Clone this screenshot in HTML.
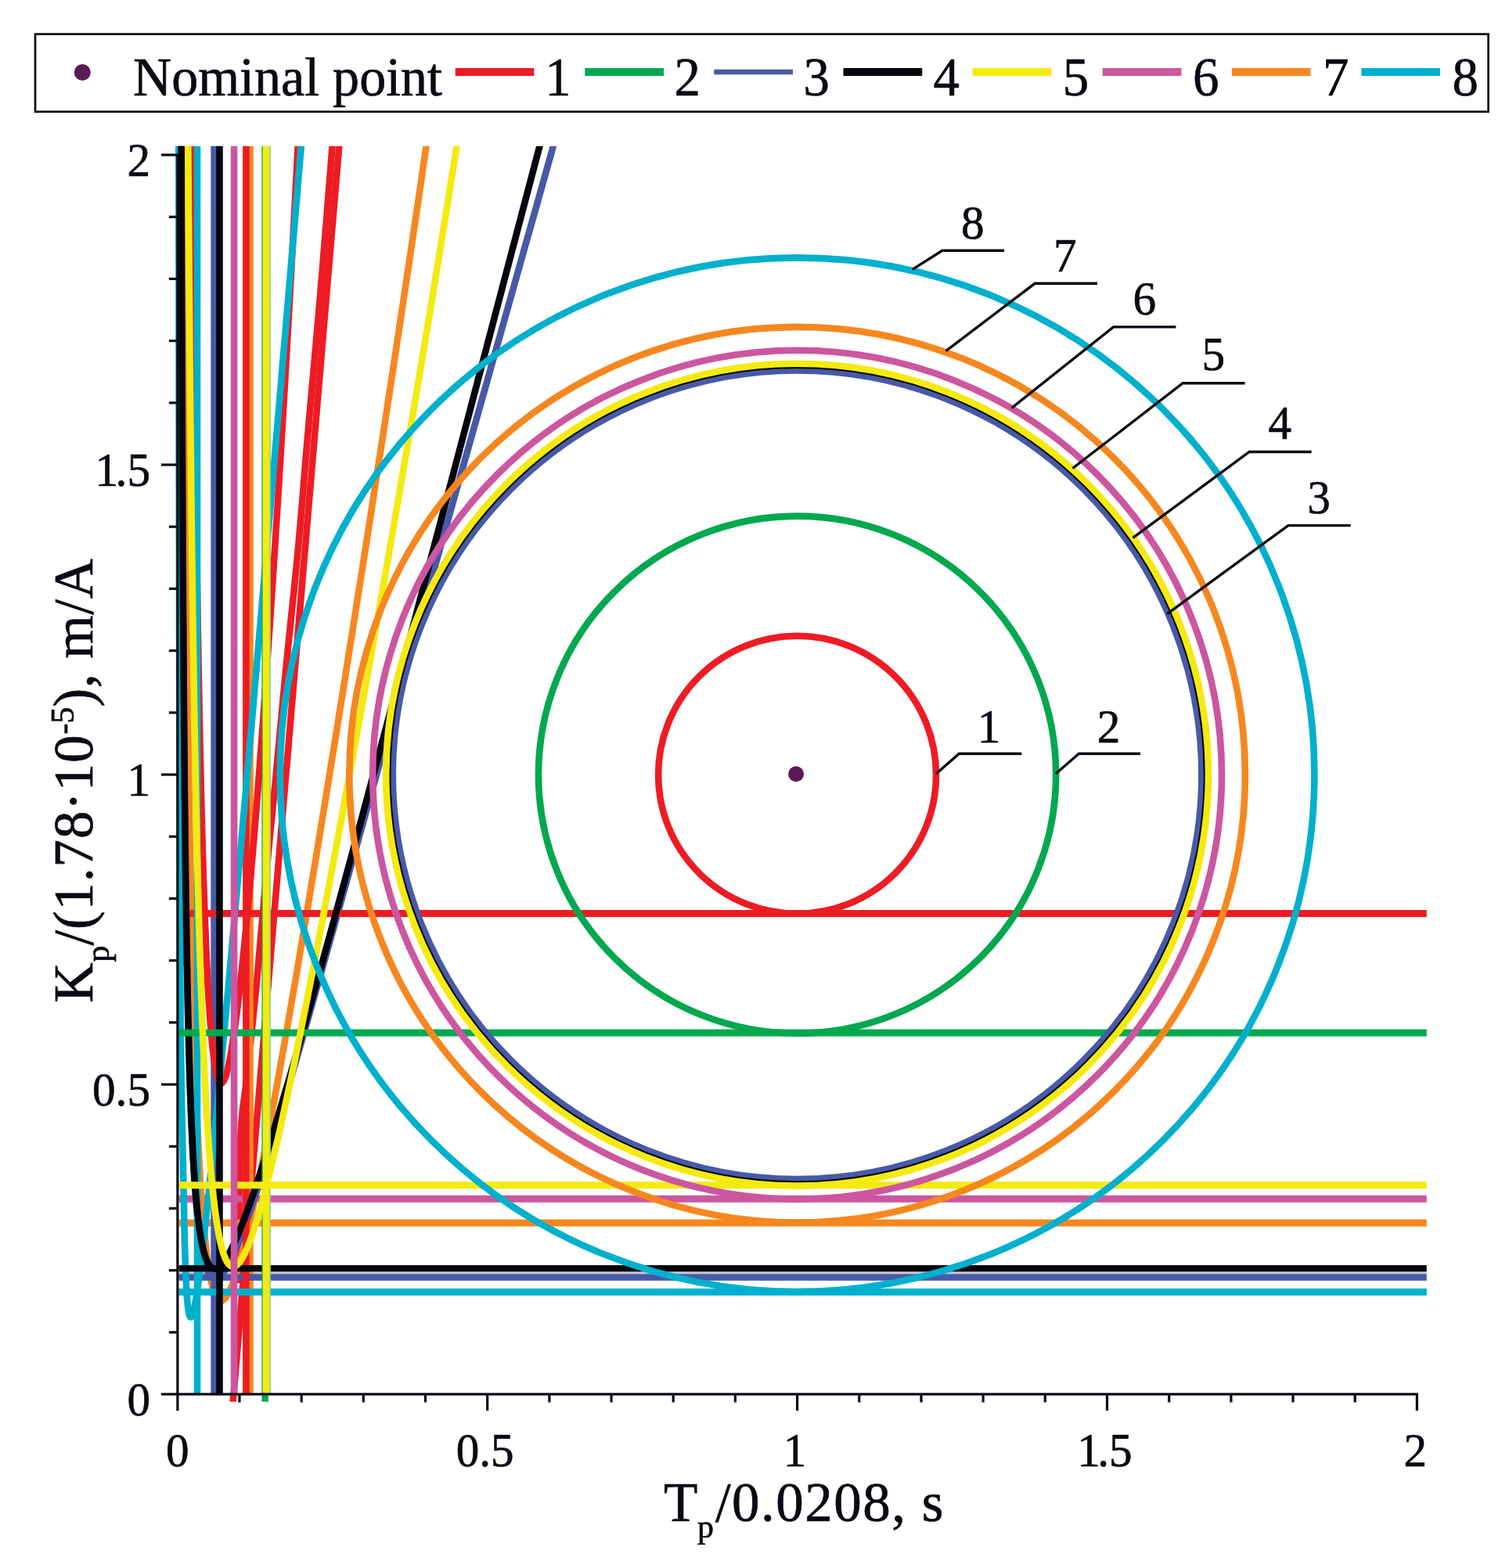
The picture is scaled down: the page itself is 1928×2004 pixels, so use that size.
<!DOCTYPE html>
<html lang="en"><head><meta charset="utf-8"><title>Stability regions</title>
<style>html,body{margin:0;padding:0;background:#fff}body{width:1928px;height:2004px;overflow:hidden}svg{display:block}text{font-family:"Liberation Serif","DejaVu Serif",serif;fill:#0a0a12;stroke:#0a0a12;stroke-width:0.7px;stroke-linejoin:round}</style>
</head><body>
<svg width="1928" height="2004" viewBox="0 0 1928 2004">
<rect x="0" y="0" width="1928" height="2004" fill="#fff"/>
<defs><clipPath id="cp"><rect x="222.0" y="186.8" width="1600.8" height="1595.8"/></clipPath>
<clipPath id="cp2"><rect x="222.0" y="186.8" width="1600.8" height="1604.7"/></clipPath></defs>
<rect x="45.0" y="43.6" width="1856.6" height="99.2" fill="#fff" stroke="#0a0a12" stroke-width="2.7"/>
<circle cx="105.3" cy="92.5" r="10.5" fill="#5b1a57"/>
<text x="170.0" y="121.6" font-size="70.0" textLength="395.0" lengthAdjust="spacingAndGlyphs">Nominal point</text>
<line x1="581.7" y1="92.0" x2="682.4" y2="92.0" stroke="#ed1c24" stroke-width="9.8"/>
<text transform="translate(713.0,121.6) scale(0.955,1)" font-size="70.0" text-anchor="middle">1</text>
<line x1="747.3" y1="92.0" x2="848.0" y2="92.0" stroke="#00a84f" stroke-width="9.8"/>
<text transform="translate(878.1,121.6) scale(0.955,1)" font-size="70.0" text-anchor="middle">2</text>
<line x1="912.4" y1="92.0" x2="1013.1" y2="92.0" stroke="#4859a7" stroke-width="6.6"/>
<text transform="translate(1043.2,121.6) scale(0.955,1)" font-size="70.0" text-anchor="middle">3</text>
<line x1="1077.5" y1="92.0" x2="1178.2" y2="92.0" stroke="#04050d" stroke-width="9.8"/>
<text transform="translate(1209.3,121.6) scale(0.955,1)" font-size="70.0" text-anchor="middle">4</text>
<line x1="1242.6" y1="92.0" x2="1343.3" y2="92.0" stroke="#f3ea12" stroke-width="9.8"/>
<text transform="translate(1374.4,121.6) scale(0.955,1)" font-size="70.0" text-anchor="middle">5</text>
<line x1="1408.7" y1="92.0" x2="1509.4" y2="92.0" stroke="#cc569f" stroke-width="9.8"/>
<text transform="translate(1540.6,121.6) scale(0.955,1)" font-size="70.0" text-anchor="middle">6</text>
<line x1="1573.8" y1="92.0" x2="1674.5" y2="92.0" stroke="#f6871f" stroke-width="9.8"/>
<text transform="translate(1706.7,121.6) scale(0.955,1)" font-size="70.0" text-anchor="middle">7</text>
<line x1="1739.4" y1="92.0" x2="1840.1" y2="92.0" stroke="#00b0cc" stroke-width="9.8"/>
<text transform="translate(1872.3,121.6) scale(0.955,1)" font-size="70.0" text-anchor="middle">8</text>
<g fill="none" stroke-width="8.6" stroke-linejoin="round">
<path clip-path="url(#cp)" d="M228.5,1626.9 H1830" stroke="#c6c6cf" stroke-width="3.4"/>
<path clip-path="url(#cp)" d="M305.5,1640.0 L305.5,1633.7 L305.5,1627.4 L305.5,1621.1 L305.5,1614.9 L305.5,1608.7 L305.5,1602.6 L305.5,1596.5 L305.6,1590.5 L305.6,1584.6 L305.6,1578.8 L305.6,1573.1 L305.6,1567.5 L305.6,1562.0 L305.6,1556.7 L305.6,1551.6 L305.6,1546.6 L305.6,1541.8 L305.6,1537.1 L305.6,1532.7 L305.6,1528.4 L305.6,1524.2 L305.6,1520.1 L305.6,1516.1 L305.7,1512.2 L305.7,1508.3 L305.7,1504.4 L305.8,1500.5 L305.9,1496.6 L305.9,1492.7 L306.0,1488.6 L306.1,1484.5 L306.3,1480.3 L306.4,1476.1 L306.5,1471.8 L306.7,1467.5 L306.9,1463.3 L307.1,1459.1 L307.3,1454.9 L307.5,1450.8 L307.7,1446.9 L307.9,1443.0 L308.2,1439.3 L308.4,1435.7 L308.7,1432.3 L309.0,1429.0 L309.3,1425.9 L309.5,1423.0 L309.8,1420.1 L310.1,1417.4 L310.4,1414.8 L310.8,1412.3 L311.1,1409.9 L311.4,1407.6 L311.7,1405.2 L312.1,1402.7 L312.5,1400.0 L312.9,1397.1 L313.3,1393.9 L313.8,1390.2 L314.3,1386.1 L314.8,1381.5 L315.4,1376.3 L316.1,1370.7 L316.7,1364.8 L317.4,1358.5 L318.1,1352.0 L318.8,1345.3 L319.5,1338.4 L320.3,1331.4 L321.0,1324.4 L321.7,1317.4 L322.4,1310.4 L323.1,1303.7 L323.8,1297.1 L324.4,1290.7 L325.0,1284.7 L325.6,1279.0 L326.1,1273.8 L326.6,1269.0 L327.0,1264.8 L327.4,1260.9 L327.8,1257.4 L328.1,1254.0 L328.4,1250.8 L328.7,1247.7 L329.0,1244.4 L329.3,1241.1 L329.6,1237.5 L330.0,1233.5 L330.4,1229.1 L330.8,1224.2 L331.3,1218.8 L331.8,1213.1 L332.3,1206.9 L332.9,1200.4 L333.5,1193.6 L334.1,1186.5 L334.8,1179.2 L335.4,1171.8 L336.1,1164.2 L336.8,1156.4 L337.5,1148.7 L338.2,1140.9 L338.9,1133.1 L339.6,1125.3 L340.3,1117.7 L341.0,1110.2 L341.6,1102.9 L342.3,1095.8 L342.9,1089.0 L343.6,1082.4 L344.2,1076.2 L344.7,1070.3 L345.3,1064.6 L345.8,1059.2 L346.3,1053.9 L346.9,1048.8 L347.4,1043.9 L347.9,1039.0 L348.3,1034.1 L348.8,1029.3 L349.3,1024.5 L349.8,1019.6 L350.3,1014.6 L350.8,1009.5 L351.3,1004.2 L351.9,998.8 L352.4,993.1 L353.0,987.2 L353.5,981.1 L354.1,974.9 L354.7,968.4 L355.3,961.9 L355.9,955.1 L356.6,948.2 L357.2,941.3 L357.9,934.2 L358.5,927.0 L359.2,919.7 L359.9,912.3 L360.6,904.9 L361.3,897.4 L362.0,889.9 L362.7,882.3 L363.4,874.8 L364.1,867.2 L364.8,859.7 L365.6,852.2 L366.3,844.7 L367.1,837.2 L367.8,829.8 L368.6,822.4 L369.3,815.0 L370.1,807.7 L370.8,800.5 L371.6,793.2 L372.3,786.0 L373.1,778.8 L373.8,771.7 L374.6,764.6 L375.3,757.6 L376.0,750.6 L376.7,743.7 L377.4,736.7 L378.1,729.9 L378.8,723.1 L379.4,716.3 L380.1,709.6 L380.7,702.9 L381.3,696.3 L382.0,689.7 L382.5,683.1 L383.1,676.6 L383.7,670.2 L384.2,663.7 L384.8,657.3 L385.3,650.8 L385.9,644.4 L386.4,637.9 L386.9,631.5 L387.5,625.0 L388.0,618.5 L388.5,612.0 L389.0,605.5 L389.6,598.9 L390.1,592.2 L390.7,585.5 L391.3,578.8 L391.8,571.9 L392.4,565.0 L393.0,558.1 L393.6,551.0 L394.3,543.9 L394.9,536.7 L395.6,529.4 L396.2,522.0 L396.9,514.6 L397.6,507.0 L398.3,499.4 L398.9,491.7 L399.7,483.9 L400.4,476.0 L401.1,468.1 L401.8,460.0 L402.5,451.9 L403.3,443.6 L404.0,435.3 L404.8,426.9 L405.5,418.4 L406.3,409.8 L407.1,401.1 L407.8,392.3 L408.6,383.4 L409.4,374.4 L410.1,365.3 L410.9,356.1 L411.7,347.0 L412.4,337.8 L413.2,328.6 L413.9,319.4 L414.7,310.3 L415.4,301.3 L416.1,292.4 L416.9,283.5 L417.6,274.8 L418.2,266.3 L418.9,257.9 L419.6,249.8 L420.2,241.8 L420.8,234.2 L421.4,226.7 L422.0,219.6 L422.5,212.8 L423.0,206.3 L423.5,200.1 L424.0,194.3 L424.4,189.0 L424.8,184.0 L425.2,179.4 L425.5,175.2 L425.8,171.4 L426.1,167.8 L426.4,164.5 L426.7,161.3 L426.9,158.3 L427.1,155.5 L427.4,152.7 L427.6,150.0" stroke="#ed1c24" stroke-width="8.6"/>
<path clip-path="url(#cp2)" d="M285.3,1938.0 L285.8,1932.4 L286.2,1926.9 L286.7,1921.3 L287.2,1915.8 L287.6,1910.3 L288.1,1904.8 L288.6,1899.3 L289.0,1893.8 L289.5,1888.4 L289.9,1883.0 L290.4,1877.7 L290.8,1872.4 L291.3,1867.1 L291.7,1861.9 L292.2,1856.7 L292.6,1851.7 L293.0,1846.6 L293.4,1841.7 L293.8,1836.8 L294.2,1832.0 L294.6,1827.2 L295.0,1822.6 L295.4,1818.0 L295.8,1813.5 L296.2,1809.2 L296.5,1804.9 L296.9,1800.7 L297.2,1796.6 L297.6,1792.7 L297.9,1788.8 L298.2,1785.1 L298.5,1781.5 L298.8,1778.0 L299.1,1774.5 L299.4,1771.2 L299.7,1767.8 L299.9,1764.5 L300.2,1761.3 L300.5,1758.0 L300.8,1754.8 L301.0,1751.5 L301.3,1748.1 L301.6,1744.8 L301.9,1741.3 L302.2,1737.8 L302.5,1734.2 L302.8,1730.4 L303.1,1726.6 L303.5,1722.6 L303.8,1718.4 L304.2,1714.1 L304.6,1709.6 L305.0,1704.9 L305.4,1700.0 L305.8,1694.8 L306.3,1689.6 L306.7,1684.1 L307.2,1678.5 L307.7,1672.7 L308.2,1666.8 L308.7,1660.7 L309.2,1654.5 L309.8,1648.2 L310.3,1641.8 L310.8,1635.4 L311.4,1628.8 L312.0,1622.2 L312.5,1615.5 L313.1,1608.7 L313.7,1601.9 L314.2,1595.1 L314.8,1588.3 L315.4,1581.4 L316.0,1574.6 L316.5,1567.7 L317.1,1560.9 L317.7,1554.1 L318.3,1547.4 L318.8,1540.7 L319.4,1534.1 L319.9,1527.5 L320.5,1521.0 L321.0,1514.7 L321.6,1508.4 L322.1,1502.2 L322.6,1496.2 L323.1,1490.3 L323.6,1484.5 L324.0,1478.9 L324.5,1473.4 L325.0,1468.2 L325.4,1463.1 L325.8,1458.1 L326.2,1453.3 L326.6,1448.7 L327.0,1444.2 L327.4,1439.9 L327.7,1435.6 L328.1,1431.5 L328.4,1427.4 L328.8,1423.5 L329.1,1419.6 L329.4,1415.8 L329.7,1412.0 L330.0,1408.3 L330.4,1404.6 L330.7,1401.0 L331.0,1397.3 L331.3,1393.7 L331.6,1390.1 L331.9,1386.4 L332.2,1382.8 L332.5,1379.0 L332.9,1375.3 L333.2,1371.5 L333.5,1367.6 L333.8,1363.7 L334.2,1359.7 L334.5,1355.6 L334.9,1351.5 L335.2,1347.3 L335.6,1343.0 L335.9,1338.7 L336.3,1334.3 L336.7,1329.8 L337.1,1325.3 L337.5,1320.7 L337.8,1316.1 L338.2,1311.4 L338.6,1306.6 L339.1,1301.8 L339.5,1296.9 L339.9,1292.0 L340.3,1286.9 L340.7,1281.9 L341.2,1276.8 L341.6,1271.6 L342.0,1266.3 L342.5,1261.0 L342.9,1255.7 L343.4,1250.3 L343.9,1244.8 L344.3,1239.3 L344.8,1233.7 L345.3,1228.1 L345.7,1222.4 L346.2,1216.7 L346.7,1210.9 L347.2,1205.1 L347.7,1199.2 L348.2,1193.3 L348.7,1187.3 L349.2,1181.3 L349.7,1175.2 L350.2,1169.1 L350.8,1162.9 L351.3,1156.7 L351.8,1150.4 L352.4,1144.1 L352.9,1137.8 L353.4,1131.4 L354.0,1125.0 L354.5,1118.5 L355.1,1112.0 L355.6,1105.4 L356.2,1098.8 L356.8,1092.2 L357.3,1085.5 L357.9,1078.8 L358.5,1072.1 L359.0,1065.3 L359.6,1058.5 L360.2,1051.6 L360.8,1044.7 L361.4,1037.8 L361.9,1030.8 L362.5,1023.9 L363.1,1016.8 L363.7,1009.8 L364.3,1002.7 L364.9,995.6 L365.5,988.4 L366.1,981.3 L366.8,974.1 L367.4,966.8 L368.0,959.6 L368.6,952.3 L369.2,945.0 L369.8,937.7 L370.5,930.3 L371.1,922.9 L371.7,915.5 L372.3,908.0 L373.0,900.5 L373.6,893.0 L374.3,885.4 L374.9,877.9 L375.5,870.2 L376.2,862.6 L376.8,854.9 L377.5,847.2 L378.1,839.4 L378.8,831.6 L379.5,823.8 L380.1,816.0 L380.8,808.1 L381.5,800.1 L382.1,792.2 L382.8,784.2 L383.5,776.1 L384.2,768.0 L384.9,759.9 L385.5,751.8 L386.2,743.5 L386.9,735.3 L387.6,727.0 L388.3,718.7 L389.0,710.3 L389.8,701.9 L390.5,693.5 L391.2,685.0 L391.9,676.4 L392.6,667.9 L393.4,659.2 L394.1,650.6 L394.8,641.9 L395.6,633.1 L396.3,624.3 L397.1,615.4 L397.8,606.5 L398.6,597.6 L399.3,588.6 L400.1,579.5 L400.9,570.5 L401.6,561.3 L402.4,552.1 L403.2,542.9 L404.0,533.6 L404.8,524.4 L405.5,515.1 L406.3,505.8 L407.1,496.4 L407.9,487.1 L408.7,477.8 L409.5,468.5 L410.3,459.2 L411.0,450.0 L411.8,440.7 L412.6,431.5 L413.4,422.4 L414.1,413.3 L414.9,404.2 L415.7,395.2 L416.4,386.3 L417.2,377.5 L417.9,368.7 L418.6,360.0 L419.4,351.4 L420.1,342.9 L420.8,334.6 L421.5,326.3 L422.2,318.1 L422.9,310.1 L423.5,302.2 L424.2,294.4 L424.8,286.8 L425.5,279.3 L426.1,271.9 L426.7,264.7 L427.3,257.7 L427.9,250.9 L428.4,244.2 L429.0,237.7 L429.5,231.5 L430.0,225.4 L430.5,219.5 L431.0,213.8 L431.5,208.3 L431.9,203.1 L432.3,198.0 L432.7,193.3 L433.1,188.7 L433.5,184.4 L433.8,180.3 L434.1,176.5 L434.4,172.9 L434.7,169.4 L435.0,166.2 L435.3,163.1 L435.5,160.2 L435.7,157.4 L436.0,154.8 L436.2,152.3 L436.4,149.8 L436.6,147.5 L436.8,145.2 L437.0,143.0 L437.1,140.8 L437.3,138.6 L437.5,136.5" stroke="#ed1c24" stroke-width="8.6"/>
<path clip-path="url(#cp)" d="M228.5,1563.0 H1827.8" stroke="#f6871f" stroke-width="9.0"/>
<path clip-path="url(#cp)" d="M228.5,1532.2 H1827.8" stroke="#cc569f" stroke-width="9.0"/>
<path clip-path="url(#cp)" d="M319.5,181.8 V1800.0" stroke="#f6871f"/>
<path clip-path="url(#cp)" d="M233.6,65.2 L233.7,88.9 L233.8,112.2 L234.0,135.3 L234.1,158.2 L234.2,180.8 L234.3,203.1 L234.4,225.3 L234.6,247.1 L234.7,268.7 L234.8,290.1 L234.9,311.3 L235.1,332.2 L235.2,352.9 L235.3,373.4 L235.5,393.6 L235.6,413.6 L235.7,433.4 L235.9,452.9 L236.0,472.3 L236.1,491.4 L236.3,510.3 L236.4,529.0 L236.6,547.5 L236.7,565.8 L236.8,583.8 L237.0,601.7 L237.1,619.4 L237.3,636.8 L237.4,654.1 L237.6,671.1 L237.7,688.0 L237.9,704.6 L238.1,721.1 L238.2,737.4 L238.4,753.5 L238.5,769.4 L238.7,785.1 L238.9,800.6 L239.0,816.0 L239.2,831.1 L239.4,846.1 L239.6,860.9 L239.7,875.6 L239.9,890.0 L240.1,904.3 L240.3,918.4 L240.4,932.3 L240.6,946.1 L240.8,959.7 L241.0,973.1 L241.2,986.4 L241.4,999.5 L241.6,1012.4 L241.8,1025.2 L242.0,1037.8 L242.2,1050.3 L242.4,1062.6 L242.6,1074.7 L242.8,1086.7 L243.0,1098.6 L243.2,1110.2 L243.4,1121.8 L243.6,1133.2 L243.8,1144.4 L244.1,1155.5 L244.3,1166.4 L244.5,1177.2 L244.7,1187.9 L244.9,1198.4 L245.2,1208.7 L245.4,1219.0 L245.6,1229.0 L245.9,1239.0 L246.1,1248.8 L246.4,1258.5 L246.6,1268.0 L246.8,1277.4 L247.1,1286.7 L247.3,1295.8 L247.6,1304.8 L247.9,1313.7 L248.1,1322.4 L248.4,1331.0 L248.6,1339.5 L248.9,1347.9 L249.2,1356.1 L249.5,1364.2 L249.7,1372.2 L250.0,1380.0 L250.3,1387.8 L250.6,1395.4 L250.9,1402.9 L251.1,1410.2 L251.4,1417.5 L251.7,1424.6 L252.0,1431.6 L252.3,1438.5 L252.6,1445.3 L253.0,1451.9 L253.3,1458.5 L253.6,1464.9 L253.9,1471.2 L254.2,1477.4 L254.5,1483.5 L254.9,1489.5 L255.2,1495.4 L255.5,1501.1 L255.9,1506.8 L256.2,1512.3 L256.6,1517.8 L256.9,1523.1 L257.3,1528.3 L257.6,1533.4 L258.0,1538.4 L258.3,1543.3 L258.7,1548.1 L259.1,1552.8 L259.4,1557.3 L259.8,1561.8 L260.2,1566.2 L260.6,1570.5 L261.0,1574.6 L261.4,1578.7 L261.8,1582.7 L262.2,1586.5 L262.6,1590.3 L263.0,1594.0 L263.4,1597.5 L263.8,1601.0 L264.2,1604.3 L264.6,1607.6 L265.1,1610.8 L265.5,1613.9 L266.0,1616.8 L266.4,1619.7 L266.8,1622.5 L267.3,1625.2 L267.8,1627.8 L268.2,1630.2 L268.7,1632.6 L269.2,1634.9 L269.6,1637.2 L270.1,1639.3 L270.6,1641.3 L271.1,1643.2 L271.6,1645.0 L272.1,1646.8 L272.6,1648.4 L273.1,1650.0 L273.6,1651.4 L274.1,1652.8 L274.7,1654.1 L275.2,1655.3 L275.7,1656.4 L276.3,1657.4 L276.8,1658.3 L277.4,1659.1 L277.9,1659.8 L278.5,1660.4 L279.1,1661.0 L279.7,1661.4 L280.2,1661.8 L280.8,1662.1 L281.4,1662.3 L282.0,1662.4 L282.6,1662.4 L283.3,1662.3 L283.9,1662.1 L284.5,1661.8 L285.1,1661.5 L285.8,1661.0 L286.4,1660.5 L287.1,1659.8 L287.7,1659.1 L288.4,1658.3 L289.1,1657.4 L289.7,1656.4 L290.4,1655.4 L291.1,1654.2 L291.8,1653.0 L292.5,1651.6 L293.2,1650.2 L294.0,1648.7 L294.7,1647.0 L295.4,1645.3 L296.2,1643.5 L296.9,1641.7 L297.7,1639.7 L298.5,1637.6 L299.2,1635.5 L300.0,1633.2 L300.8,1630.9 L301.6,1628.5 L302.4,1626.0 L303.2,1623.4 L304.0,1620.7 L304.9,1617.9 L305.7,1615.0 L306.6,1612.0 L307.4,1609.0 L308.3,1605.8 L309.2,1602.6 L310.1,1599.2 L310.9,1595.8 L311.8,1592.3 L312.8,1588.7 L313.7,1584.9 L314.6,1581.1 L315.5,1577.2 L316.5,1573.3 L317.5,1569.2 L318.5,1564.8 L319.5,1560.4 L320.5,1556.0 L321.5,1551.5 L322.5,1546.9 L323.5,1542.3 L324.5,1537.6 L325.5,1532.9 L326.5,1528.2 L327.5,1523.4 L328.6,1518.6 L329.6,1513.7 L330.6,1508.8 L331.6,1503.8 L332.6,1498.9 L333.6,1493.9 L334.6,1488.8 L335.6,1483.7 L336.6,1478.6 L337.6,1473.5 L338.6,1468.3 L339.6,1463.1 L340.7,1457.8 L341.7,1452.6 L342.7,1447.3 L343.7,1442.0 L344.7,1436.6 L345.7,1431.3 L346.7,1425.9 L347.7,1420.5 L348.7,1415.0 L349.7,1409.6 L350.7,1404.1 L351.7,1398.6 L352.8,1393.1 L353.8,1387.6 L354.8,1382.0 L355.8,1376.4 L356.8,1370.8 L357.8,1365.2 L358.8,1359.6 L359.8,1353.9 L360.8,1348.3 L361.8,1342.6 L362.8,1336.9 L363.8,1331.2 L364.9,1325.4 L365.9,1319.7 L366.9,1313.9 L367.9,1308.2 L368.9,1302.4 L369.9,1296.6 L370.9,1290.8 L371.9,1285.0 L372.9,1279.1 L373.9,1273.3 L374.9,1267.4 L375.9,1261.5 L377.0,1255.7 L378.0,1249.8 L379.0,1243.9 L380.0,1237.9 L381.0,1232.0 L382.0,1226.1 L383.0,1220.1 L384.0,1214.2 L385.0,1208.2 L386.0,1202.2 L387.0,1196.2 L388.0,1190.3 L389.1,1184.2 L390.1,1178.2 L391.1,1172.2 L392.1,1166.2 L393.1,1160.1 L394.1,1154.1 L395.1,1148.0 L396.1,1142.0 L397.1,1135.9 L398.1,1129.8 L399.1,1123.8 L400.1,1117.7 L401.2,1111.6 L402.2,1105.5 L403.2,1099.3 L404.2,1093.2 L405.2,1087.1 L406.2,1081.0 L407.2,1074.8 L408.2,1068.7 L409.2,1062.5 L410.2,1056.3 L411.2,1050.2 L412.2,1044.0 L413.3,1037.8 L414.3,1031.6 L415.3,1025.4 L416.3,1019.2 L417.3,1013.0 L418.3,1006.8 L419.3,1000.6 L420.3,994.4 L421.3,988.2 L422.3,981.9 L423.3,975.7 L424.3,969.4 L425.4,963.2 L426.4,956.9 L427.4,950.7 L428.4,944.4 L429.4,938.1 L430.4,931.9 L431.4,925.6 L432.4,919.3 L433.4,913.0 L434.4,906.7 L435.4,900.4 L436.4,894.1 L437.5,887.8 L438.5,881.4 L439.5,875.1 L440.5,868.8 L441.5,862.4 L442.5,856.1 L443.5,849.8 L444.5,843.4 L445.5,837.1 L446.5,830.7 L447.5,824.3 L448.6,818.0 L449.6,811.6 L450.6,805.2 L451.6,798.8 L452.6,792.4 L453.6,786.0 L454.6,779.6 L455.6,773.2 L456.6,766.8 L457.6,760.4 L458.6,754.0 L459.6,747.6 L460.7,741.1 L461.7,734.7 L462.7,728.3 L463.7,721.8 L464.7,715.4 L465.7,708.9 L466.7,702.5 L467.7,696.0 L468.7,689.5 L469.7,683.1 L470.7,676.6 L471.7,670.1 L472.8,663.6 L473.8,657.1 L474.8,650.6 L475.8,644.1 L476.8,637.6 L477.8,631.1 L478.8,624.6 L479.8,618.0 L480.8,611.5 L481.8,605.0 L482.8,598.4 L483.8,591.9 L484.9,585.4 L485.9,578.8 L486.9,572.2 L487.9,565.7 L488.9,559.1 L489.9,552.5 L490.9,545.9 L491.9,539.4 L492.9,532.8 L493.9,526.2 L494.9,519.6 L495.9,513.0 L497.0,506.3 L498.0,499.7 L499.0,493.1 L500.0,486.5 L501.0,479.8 L502.0,473.2 L503.0,466.5 L504.0,459.9 L505.0,453.2 L506.0,446.6 L507.0,439.9 L508.0,433.2 L509.1,426.5 L510.1,419.8 L511.1,413.2 L512.1,406.5 L513.1,399.7 L514.1,393.0 L515.1,386.3 L516.1,379.6 L517.1,372.9 L518.1,366.1 L519.1,359.4 L520.1,352.6 L521.2,345.9 L522.2,339.1 L523.2,332.4 L524.2,325.6 L525.2,318.8 L526.2,312.0 L527.2,305.2 L528.2,298.4 L529.2,291.6 L530.2,284.8 L531.2,278.0 L532.2,271.2 L533.3,264.3 L534.3,257.5 L535.3,250.7 L536.3,243.8 L537.3,236.9 L538.3,230.1 L539.3,223.2 L540.3,216.3 L541.3,209.4 L542.3,202.6 L543.3,195.7 L544.3,188.7 L545.4,181.8 L546.4,174.9 L547.4,168.0 L548.4,161.0 L549.4,154.1 L550.4,147.2 L551.4,140.2 L552.4,133.2 L553.4,126.3 L554.4,119.3 L555.4,112.3 L556.4,105.3 L557.5,98.3 L558.5,91.3 L559.5,84.3 L560.5,77.2 L561.5,70.2 L562.5,63.2" stroke="#f6871f" stroke-width="8.6"/>
<path clip-path="url(#cp)" d="M228.5,1632.5 H1827.8" stroke="#4859a7" stroke-width="8.4"/>
<path clip-path="url(#cp)" d="M273.6,181.8 V1800.0" stroke="#4859a7"/>
<path clip-path="url(#cp)" d="M230.7,70.9 L230.8,90.4 L230.8,109.7 L230.9,128.8 L230.9,147.7 L231.0,166.4 L231.0,185.0 L231.1,203.3 L231.2,221.4 L231.2,239.4 L231.3,257.2 L231.3,274.7 L231.4,292.1 L231.4,309.4 L231.5,326.4 L231.6,343.3 L231.6,359.9 L231.7,376.4 L231.8,392.8 L231.8,409.0 L231.9,425.0 L231.9,440.8 L232.0,456.5 L232.1,472.0 L232.1,487.3 L232.2,502.5 L232.3,517.5 L232.3,532.4 L232.4,547.1 L232.5,561.6 L232.6,576.0 L232.6,590.3 L232.7,604.4 L232.8,618.3 L232.8,632.2 L232.9,645.8 L233.0,659.3 L233.1,672.7 L233.2,685.9 L233.2,699.0 L233.3,712.0 L233.4,724.8 L233.5,737.5 L233.5,750.0 L233.6,762.4 L233.7,774.7 L233.8,786.8 L233.9,798.8 L234.0,810.7 L234.0,822.5 L234.1,834.1 L234.2,845.6 L234.3,857.0 L234.4,868.3 L234.5,879.4 L234.6,890.4 L234.7,901.3 L234.8,912.1 L234.9,922.8 L235.0,933.3 L235.1,943.8 L235.1,954.1 L235.2,964.3 L235.3,974.4 L235.4,984.4 L235.5,994.3 L235.6,1004.0 L235.8,1013.7 L235.9,1023.3 L236.0,1032.7 L236.1,1042.1 L236.2,1051.3 L236.3,1060.4 L236.4,1069.5 L236.5,1078.4 L236.6,1087.2 L236.7,1096.0 L236.8,1104.6 L237.0,1113.2 L237.1,1121.6 L237.2,1130.0 L237.3,1138.2 L237.4,1146.4 L237.5,1154.5 L237.7,1162.4 L237.8,1170.3 L237.9,1178.1 L238.0,1185.8 L238.2,1193.5 L238.3,1201.0 L238.4,1208.4 L238.6,1215.8 L238.7,1223.1 L238.8,1230.2 L239.0,1237.4 L239.1,1244.4 L239.2,1251.3 L239.4,1258.2 L239.5,1264.9 L239.7,1271.6 L239.8,1278.2 L240.0,1284.8 L240.1,1291.2 L240.2,1297.6 L240.4,1303.9 L240.5,1310.1 L240.7,1316.3 L240.9,1322.4 L241.0,1328.4 L241.2,1334.3 L241.3,1340.1 L241.5,1345.9 L241.7,1351.6 L241.8,1357.3 L242.0,1362.8 L242.2,1368.3 L242.3,1373.7 L242.5,1379.1 L242.7,1384.4 L242.8,1389.6 L243.0,1394.7 L243.2,1399.8 L243.4,1404.8 L243.6,1409.8 L243.7,1414.7 L243.9,1419.5 L244.1,1424.2 L244.3,1428.9 L244.5,1433.6 L244.7,1438.1 L244.9,1442.6 L245.1,1447.1 L245.3,1451.4 L245.5,1455.7 L245.7,1460.0 L245.9,1464.2 L246.1,1468.3 L246.3,1472.4 L246.5,1476.4 L246.7,1480.4 L246.9,1484.3 L247.2,1488.1 L247.4,1491.9 L247.6,1495.6 L247.8,1499.3 L248.1,1502.9 L248.3,1506.5 L248.5,1510.0 L248.7,1513.4 L249.0,1516.8 L249.2,1520.1 L249.5,1523.4 L249.7,1526.7 L250.0,1529.8 L250.2,1533.0 L250.5,1536.0 L250.7,1539.0 L251.0,1542.0 L251.2,1544.9 L251.5,1547.8 L251.8,1550.6 L252.0,1553.4 L252.3,1556.1 L252.6,1558.7 L252.8,1561.3 L253.1,1563.9 L253.4,1566.4 L253.7,1568.9 L254.0,1571.3 L254.3,1573.6 L254.5,1575.9 L254.8,1578.2 L255.1,1580.4 L255.4,1582.6 L255.8,1584.7 L256.1,1586.8 L256.4,1588.8 L256.7,1590.8 L257.0,1592.7 L257.3,1594.6 L257.6,1596.5 L258.0,1598.3 L258.3,1600.0 L258.6,1601.7 L259.0,1603.4 L259.3,1605.0 L259.7,1606.6 L260.0,1608.1 L260.4,1609.6 L260.7,1611.0 L261.1,1612.4 L261.4,1613.7 L261.8,1615.0 L262.2,1616.3 L262.5,1617.5 L262.9,1618.7 L263.3,1619.8 L263.7,1620.9 L264.1,1621.9 L264.5,1622.9 L264.9,1623.9 L265.3,1624.8 L265.7,1625.6 L266.1,1626.5 L266.5,1627.2 L266.9,1628.0 L267.3,1628.7 L267.8,1629.3 L268.2,1629.9 L268.6,1630.5 L269.1,1631.0 L269.5,1631.5 L270.0,1632.0 L270.4,1632.4 L270.9,1632.7 L271.3,1633.1 L271.8,1633.3 L272.3,1633.6 L272.7,1633.8 L273.2,1633.9 L273.7,1634.0 L274.2,1634.1 L274.7,1634.1 L275.2,1634.1 L275.7,1634.0 L276.2,1633.9 L276.7,1633.8 L277.2,1633.6 L277.8,1633.4 L278.3,1633.1 L278.8,1632.8 L279.4,1632.5 L279.9,1632.1 L280.5,1631.6 L281.1,1631.2 L281.6,1630.7 L282.2,1630.1 L282.8,1629.5 L283.4,1628.9 L283.9,1628.2 L284.5,1627.5 L285.1,1626.7 L285.7,1625.9 L286.4,1625.0 L287.0,1624.2 L287.6,1623.2 L288.2,1622.2 L288.9,1621.2 L289.5,1620.2 L290.2,1619.1 L290.8,1617.9 L291.5,1616.7 L292.2,1615.5 L292.9,1614.2 L293.5,1612.9 L294.2,1611.6 L294.9,1610.2 L295.6,1608.7 L296.4,1607.2 L297.1,1605.7 L297.8,1604.1 L298.5,1602.5 L299.3,1600.9 L300.0,1599.2 L300.8,1597.4 L301.6,1595.6 L302.3,1593.8 L303.1,1591.9 L303.9,1590.0 L304.7,1588.0 L305.5,1586.0 L306.3,1584.0 L307.2,1581.9 L308.0,1579.7 L308.8,1577.5 L309.7,1575.3 L310.5,1573.0 L311.4,1570.7 L312.3,1568.3 L313.2,1565.9 L314.1,1563.4 L315.0,1560.9 L315.9,1558.3 L316.8,1555.7 L317.7,1553.1 L318.7,1550.4 L319.6,1547.6 L320.6,1544.8 L321.6,1541.9 L322.6,1538.9 L323.6,1535.9 L324.6,1532.9 L325.6,1529.9 L326.6,1526.8 L327.6,1523.8 L328.6,1520.7 L329.6,1517.6 L330.6,1514.5 L331.6,1511.4 L332.6,1508.2 L333.6,1505.1 L334.6,1501.9 L335.6,1498.8 L336.6,1495.6 L337.6,1492.4 L338.6,1489.2 L339.6,1485.9 L340.6,1482.7 L341.6,1479.4 L342.6,1476.2 L343.6,1472.9 L344.6,1469.6 L345.6,1466.4 L346.6,1463.1 L347.6,1459.8 L348.6,1456.4 L349.6,1453.1 L350.6,1449.8 L351.6,1446.4 L352.6,1443.1 L353.6,1439.7 L354.6,1436.4 L355.6,1433.0 L356.6,1429.6 L357.6,1426.3 L358.6,1422.9 L359.7,1419.5 L360.7,1416.1 L361.7,1412.7 L362.7,1409.2 L363.7,1405.8 L364.7,1402.4 L365.7,1399.0 L366.7,1395.5 L367.7,1392.1 L368.7,1388.7 L369.7,1385.2 L370.7,1381.8 L371.7,1378.3 L372.7,1374.8 L373.7,1371.4 L374.7,1367.9 L375.7,1364.4 L376.7,1360.9 L377.7,1357.5 L378.7,1354.0 L379.7,1350.5 L380.7,1347.0 L381.7,1343.5 L382.7,1340.0 L383.7,1336.5 L384.7,1333.0 L385.7,1329.5 L386.7,1326.0 L387.7,1322.5 L388.7,1319.0 L389.7,1315.4 L390.7,1311.9 L391.7,1308.4 L392.7,1304.9 L393.7,1301.3 L394.7,1297.8 L395.7,1294.3 L396.7,1290.7 L397.7,1287.2 L398.7,1283.7 L399.7,1280.1 L400.7,1276.6 L401.7,1273.0 L402.7,1269.5 L403.7,1265.9 L404.7,1262.4 L405.8,1258.9 L406.8,1255.3 L407.8,1251.7 L408.8,1248.2 L409.8,1244.6 L410.8,1241.1 L411.8,1237.5 L412.8,1234.0 L413.8,1230.4 L414.8,1226.8 L415.8,1223.3 L416.8,1219.7 L417.8,1216.1 L418.8,1212.6 L419.8,1209.0 L420.8,1205.4 L421.8,1201.9 L422.8,1198.3 L423.8,1194.7 L424.8,1191.2 L425.8,1187.6 L426.8,1184.0 L427.8,1180.4 L428.8,1176.9 L429.8,1173.3 L430.8,1169.7 L431.8,1166.1 L432.8,1162.6 L433.8,1159.0 L434.8,1155.4 L435.8,1151.8 L436.8,1148.3 L437.8,1144.7 L438.8,1141.1 L439.8,1137.5 L440.8,1133.9 L441.8,1130.4 L442.8,1126.8 L443.8,1123.2 L444.8,1119.6 L445.8,1116.0 L446.8,1112.4 L447.8,1108.9 L448.8,1105.3 L449.8,1101.7 L450.8,1098.1 L451.9,1094.5 L452.9,1090.9 L453.9,1087.4 L454.9,1083.8 L455.9,1080.2 L456.9,1076.6 L457.9,1073.0 L458.9,1069.4 L459.9,1065.9 L460.9,1062.3 L461.9,1058.7 L462.9,1055.1 L463.9,1051.5 L464.9,1047.9 L465.9,1044.4 L466.9,1040.8 L467.9,1037.2 L468.9,1033.6 L469.9,1030.0 L470.9,1026.4 L471.9,1022.9 L472.9,1019.3 L473.9,1015.7 L474.9,1012.1 L475.9,1008.5 L476.9,1004.9 L477.9,1001.4 L478.9,997.8 L479.9,994.2 L480.9,990.6 L481.9,987.0 L482.9,983.4 L483.9,979.9 L484.9,976.3 L485.9,972.7 L486.9,969.1 L487.9,965.5 L488.9,962.0 L489.9,958.4 L490.9,954.8 L491.9,951.2 L492.9,947.6 L493.9,944.1 L494.9,940.5 L495.9,936.9 L496.9,933.3 L498.0,929.7 L499.0,926.2 L500.0,922.6 L501.0,919.0 L502.0,915.4 L503.0,911.8 L504.0,908.3 L505.0,904.7 L506.0,901.1 L507.0,897.5 L508.0,894.0 L509.0,890.4 L510.0,886.8 L511.0,883.2 L512.0,879.7 L513.0,876.1 L514.0,872.5 L515.0,868.9 L516.0,865.4 L517.0,861.8 L518.0,858.2 L519.0,854.6 L520.0,851.1 L521.0,847.5 L522.0,843.9 L523.0,840.4 L524.0,836.8 L525.0,833.2 L526.0,829.6 L527.0,826.1 L528.0,822.5 L529.0,818.9 L530.0,815.4 L531.0,811.8 L532.0,808.2 L533.0,804.6 L534.0,801.1 L535.0,797.5 L536.0,793.9 L537.0,790.4 L538.0,786.8 L539.0,783.2 L540.0,779.7 L541.0,776.1 L542.0,772.5 L543.0,769.0 L544.1,765.4 L545.1,761.8 L546.1,758.3 L547.1,754.7 L548.1,751.1 L549.1,747.6 L550.1,744.0 L551.1,740.4 L552.1,736.9 L553.1,733.3 L554.1,729.8 L555.1,726.2 L556.1,722.6 L557.1,719.1 L558.1,715.5 L559.1,711.9 L560.1,708.4 L561.1,704.8 L562.1,701.3 L563.1,697.7 L564.1,694.1 L565.1,690.6 L566.1,687.0 L567.1,683.4 L568.1,679.9 L569.1,676.3 L570.1,672.8 L571.1,669.2 L572.1,665.6 L573.1,662.1 L574.1,658.5 L575.1,655.0 L576.1,651.4 L577.1,647.8 L578.1,644.3 L579.1,640.7 L580.1,637.2 L581.1,633.6 L582.1,630.1 L583.1,626.5 L584.1,622.9 L585.1,619.4 L586.1,615.8 L587.1,612.3 L588.1,608.7 L589.1,605.2 L590.2,601.6 L591.2,598.0 L592.2,594.5 L593.2,590.9 L594.2,587.4 L595.2,583.8 L596.2,580.3 L597.2,576.7 L598.2,573.1 L599.2,569.6 L600.2,566.0 L601.2,562.5 L602.2,558.9 L603.2,555.4 L604.2,551.8 L605.2,548.3 L606.2,544.7 L607.2,541.1 L608.2,537.6 L609.2,534.0 L610.2,530.5 L611.2,526.9 L612.2,523.4 L613.2,519.8 L614.2,516.3 L615.2,512.7 L616.2,509.1 L617.2,505.6 L618.2,502.0 L619.2,498.5 L620.2,494.9 L621.2,491.4 L622.2,487.8 L623.2,484.2 L624.2,480.7 L625.2,477.1 L626.2,473.6 L627.2,470.0 L628.2,466.5 L629.2,462.9 L630.2,459.4 L631.2,455.8 L632.2,452.2 L633.2,448.7 L634.2,445.1 L635.2,441.6 L636.3,438.0 L637.3,434.5 L638.3,430.9 L639.3,427.3 L640.3,423.8 L641.3,420.2 L642.3,416.7 L643.3,413.1 L644.3,409.6 L645.3,406.0 L646.3,402.4 L647.3,398.9 L648.3,395.3 L649.3,391.8 L650.3,388.2 L651.3,384.6 L652.3,381.1 L653.3,377.5 L654.3,374.0 L655.3,370.4 L656.3,366.9 L657.3,363.3 L658.3,359.7 L659.3,356.2 L660.3,352.6 L661.3,349.0 L662.3,345.5 L663.3,341.9 L664.3,338.4 L665.3,334.8 L666.3,331.2 L667.3,327.7 L668.3,324.1 L669.3,320.5 L670.3,317.0 L671.3,313.4 L672.3,309.9 L673.3,306.3 L674.3,302.7 L675.3,299.2 L676.3,295.6 L677.3,292.0 L678.3,288.5 L679.3,284.9 L680.3,281.3 L681.3,277.8 L682.4,274.2 L683.4,270.6 L684.4,267.0 L685.4,263.5 L686.4,259.9 L687.4,256.3 L688.4,252.8 L689.4,249.2 L690.4,245.6 L691.4,242.1 L692.4,238.5 L693.4,234.9 L694.4,231.3 L695.4,227.8 L696.4,224.2 L697.4,220.6 L698.4,217.0 L699.4,213.5 L700.4,209.9 L701.4,206.3 L702.4,202.7 L703.4,199.2 L704.4,195.6 L705.4,192.0 L706.4,188.4 L707.4,184.8 L708.4,181.3 L709.4,177.7 L710.4,174.1 L711.4,170.5 L712.4,166.9 L713.4,163.3 L714.4,159.8 L715.4,156.2 L716.4,152.6 L717.4,149.0 L718.4,145.4 L719.4,141.8 L720.4,138.2 L721.4,134.7 L722.4,131.1 L723.4,127.5 L724.4,123.9 L725.4,120.3 L726.4,116.7 L727.4,113.1 L728.5,109.5 L729.5,105.9 L730.5,102.3 L731.5,98.7 L732.5,95.1 L733.5,91.5 L734.5,87.9 L735.5,84.3 L736.5,80.7 L737.5,77.1 L738.5,73.5 L739.5,69.9 L740.5,66.3 L741.5,62.7" stroke="#4859a7" stroke-width="8.6"/>
<path clip-path="url(#cp)" d="M314.4,181.8 V1800.0" stroke="#ed1c24"/>
<path clip-path="url(#cp)" d="M242.3,1167.6 H1827.8" stroke="#ed1c24" stroke-width="9.0"/>
<path clip-path="url(#cp)" d="M245.1,67.5 L245.3,94.1 L245.5,120.4 L245.7,146.4 L245.8,172.0 L246.0,197.3 L246.2,222.3 L246.4,246.9 L246.6,271.3 L246.9,295.2 L247.1,318.9 L247.3,342.3 L247.5,365.3 L247.7,388.0 L247.9,410.4 L248.1,432.5 L248.3,454.3 L248.6,475.8 L248.8,497.0 L249.0,517.9 L249.3,538.5 L249.5,558.8 L249.7,578.9 L250.0,598.6 L250.2,618.0 L250.4,637.2 L250.7,656.0 L250.9,674.6 L251.2,692.9 L251.4,711.0 L251.7,728.7 L251.9,746.2 L252.2,763.4 L252.5,780.3 L252.7,797.0 L253.0,813.4 L253.3,829.5 L253.5,845.4 L253.8,861.0 L254.1,876.4 L254.4,891.5 L254.6,906.3 L254.9,920.9 L255.2,935.3 L255.5,949.3 L255.8,963.2 L256.1,976.8 L256.4,990.1 L256.7,1003.2 L257.0,1016.1 L257.3,1028.7 L257.7,1041.1 L258.0,1053.2 L258.3,1065.1 L258.6,1076.7 L258.9,1088.2 L259.3,1099.4 L259.6,1110.3 L259.9,1121.0 L260.3,1131.5 L260.6,1141.8 L261.0,1151.9 L261.3,1161.7 L261.7,1171.3 L262.0,1180.6 L262.4,1189.8 L262.8,1198.7 L263.1,1207.4 L263.5,1215.9 L263.9,1224.1 L264.3,1232.2 L264.7,1240.0 L265.0,1247.6 L265.4,1255.0 L265.8,1262.2 L266.2,1269.2 L266.6,1276.0 L267.0,1282.5 L267.5,1288.9 L267.9,1295.0 L268.3,1300.9 L268.7,1306.6 L269.2,1312.1 L269.6,1317.4 L270.0,1322.5 L270.5,1327.4 L270.9,1332.1 L271.4,1336.6 L271.8,1340.8 L272.3,1344.9 L272.8,1348.8 L273.2,1352.5 L273.7,1355.9 L274.2,1359.2 L274.7,1362.3 L275.2,1365.1 L275.7,1367.8 L276.2,1370.3 L276.7,1372.5 L277.2,1374.6 L277.7,1376.5 L278.2,1378.1 L278.7,1379.6 L279.3,1380.9 L279.8,1382.0 L280.4,1382.9 L280.9,1383.6 L281.5,1384.0 L282.0,1384.3 L282.6,1384.4 L283.2,1384.3 L283.7,1384.0 L284.3,1383.5 L284.9,1382.8 L285.5,1382.0 L286.1,1380.9 L286.7,1379.6 L287.3,1378.1 L287.9,1376.4 L288.6,1374.6 L289.2,1372.5 L289.8,1370.2 L290.5,1367.7 L291.1,1365.1 L291.8,1362.2 L292.5,1359.1 L293.1,1355.8 L293.8,1352.4 L294.5,1348.7 L295.2,1344.8 L295.9,1340.7 L296.6,1336.4 L297.3,1331.9 L298.0,1327.2 L298.8,1322.3 L299.5,1317.2 L300.3,1311.9 L301.0,1306.4 L301.8,1300.6 L302.5,1294.7 L303.3,1288.5 L304.1,1282.1 L304.9,1275.5 L305.7,1268.7 L306.5,1261.6 L307.3,1254.4 L308.1,1246.9 L309.0,1239.2 L309.8,1231.3 L310.6,1223.1 L311.5,1214.7 L312.4,1206.1 L313.2,1197.2 L314.1,1188.1 L315.0,1178.8 L315.9,1169.2 L316.8,1159.4 L317.8,1149.4 L318.7,1139.1 L319.6,1128.5 L320.6,1117.7 L321.5,1106.6 L322.5,1095.0 L323.5,1083.1 L324.5,1071.1 L325.5,1059.0 L326.5,1046.7 L327.5,1034.2 L328.5,1021.6 L329.5,1008.9 L330.5,996.0 L331.5,983.0 L332.5,969.9 L333.5,956.6 L334.5,943.2 L335.5,929.6 L336.5,916.0 L337.5,902.2 L338.5,888.2 L339.5,874.2 L340.5,860.0 L341.5,845.6 L342.5,831.2 L343.5,816.6 L344.5,801.9 L345.5,787.1 L346.5,772.1 L347.5,757.1 L348.5,741.9 L349.5,726.5 L350.5,711.1 L351.5,695.5 L352.5,679.8 L353.5,664.0 L354.5,648.0 L355.5,632.0 L356.5,615.8 L357.5,599.4 L358.5,583.0 L359.5,566.4 L360.5,549.7 L361.5,532.9 L362.5,516.0 L363.5,498.9 L364.5,481.7 L365.5,464.4 L366.5,446.9 L367.5,429.4 L368.5,411.6 L369.5,393.8 L370.5,375.8 L371.5,357.7 L372.5,339.5 L373.5,321.2 L374.5,302.7 L375.5,284.1 L376.5,265.3 L377.5,246.4 L378.5,227.4 L379.5,208.3 L380.5,189.0 L381.5,169.5 L382.5,150.0 L383.5,130.3 L384.5,110.4 L385.5,90.5 L386.5,70.3" stroke="#ed1c24" stroke-width="8.6"/>
<path clip-path="url(#cp)" d="M228.5,1651.2 H1827.8" stroke="#00b0cc" stroke-width="9.0"/>
<path clip-path="url(#cp)" d="M252.0,181.8 V1800.0" stroke="#00b0cc"/>
<path clip-path="url(#cp)" d="M228.3,71.0 L228.3,90.3 L228.3,109.4 L228.3,128.3 L228.3,147.0 L228.3,165.5 L228.3,183.8 L228.3,202.0 L228.4,219.9 L228.4,237.7 L228.4,255.2 L228.4,272.6 L228.4,289.8 L228.4,306.9 L228.4,323.8 L228.5,340.5 L228.5,357.0 L228.5,373.3 L228.5,389.5 L228.5,405.5 L228.5,421.4 L228.5,437.1 L228.6,452.6 L228.6,468.0 L228.6,483.2 L228.6,498.2 L228.6,513.1 L228.6,527.8 L228.7,542.4 L228.7,556.9 L228.7,571.2 L228.7,585.3 L228.7,599.3 L228.7,613.1 L228.8,626.8 L228.8,640.4 L228.8,653.8 L228.8,667.1 L228.8,680.3 L228.9,693.3 L228.9,706.1 L228.9,718.9 L228.9,731.5 L228.9,743.9 L229.0,756.3 L229.0,768.5 L229.0,780.6 L229.0,792.6 L229.0,804.4 L229.1,816.1 L229.1,827.7 L229.1,839.1 L229.1,850.5 L229.1,861.7 L229.2,872.8 L229.2,883.8 L229.2,894.7 L229.2,905.5 L229.3,916.1 L229.3,926.6 L229.3,937.1 L229.3,947.4 L229.3,957.6 L229.4,967.7 L229.4,977.7 L229.4,987.5 L229.4,997.3 L229.5,1007.0 L229.5,1016.6 L229.5,1026.0 L229.5,1035.4 L229.6,1044.7 L229.6,1053.8 L229.6,1062.9 L229.6,1071.9 L229.7,1080.7 L229.7,1089.5 L229.7,1098.2 L229.8,1106.8 L229.8,1115.3 L229.8,1123.7 L229.8,1132.0 L229.9,1140.2 L229.9,1148.4 L229.9,1156.4 L230.0,1164.4 L230.0,1172.2 L230.0,1180.0 L230.1,1187.7 L230.1,1195.3 L230.1,1202.9 L230.1,1210.3 L230.2,1217.7 L230.2,1225.0 L230.2,1232.2 L230.3,1239.3 L230.3,1246.3 L230.3,1253.3 L230.4,1260.2 L230.4,1267.0 L230.4,1273.7 L230.5,1280.4 L230.5,1287.0 L230.6,1293.5 L230.6,1299.9 L230.6,1306.3 L230.7,1312.6 L230.7,1318.8 L230.8,1324.9 L230.9,1331.0 L230.9,1337.0 L231.0,1343.0 L231.1,1348.8 L231.2,1354.6 L231.3,1360.4 L231.4,1366.0 L231.5,1371.6 L231.6,1377.2 L231.7,1382.6 L231.8,1388.0 L231.9,1393.4 L232.0,1398.6 L232.1,1403.9 L232.2,1409.0 L232.3,1414.1 L232.4,1419.1 L232.5,1424.1 L232.6,1429.0 L232.7,1433.9 L232.8,1438.6 L232.9,1443.4 L233.0,1448.0 L233.1,1452.7 L233.2,1457.2 L233.3,1461.7 L233.4,1466.2 L233.5,1470.5 L233.6,1474.9 L233.7,1479.2 L233.8,1483.4 L233.9,1487.5 L234.0,1491.7 L234.0,1495.7 L234.1,1499.7 L234.2,1503.7 L234.3,1507.6 L234.4,1511.4 L234.4,1515.2 L234.5,1519.0 L234.6,1522.7 L234.7,1526.3 L234.7,1529.9 L234.8,1533.5 L234.9,1537.0 L235.0,1540.4 L235.0,1543.8 L235.1,1547.2 L235.1,1550.5 L235.2,1553.8 L235.3,1557.0 L235.3,1560.1 L235.4,1563.3 L235.5,1566.3 L235.5,1569.4 L235.6,1572.3 L235.7,1575.3 L235.7,1578.2 L235.8,1581.0 L235.9,1583.8 L235.9,1586.6 L236.0,1589.3 L236.1,1592.0 L236.2,1594.6 L236.2,1597.2 L236.3,1599.7 L236.4,1602.2 L236.5,1604.7 L236.5,1607.1 L236.6,1609.5 L236.7,1611.8 L236.8,1614.1 L236.8,1616.4 L236.9,1618.6 L237.0,1620.8 L237.1,1622.9 L237.2,1625.0 L237.2,1627.1 L237.3,1629.1 L237.4,1631.1 L237.5,1633.0 L237.6,1634.9 L237.7,1636.7 L237.8,1638.6 L237.9,1640.3 L237.9,1642.1 L238.0,1643.8 L238.1,1645.5 L238.2,1647.1 L238.3,1648.7 L238.4,1650.2 L238.5,1651.8 L238.6,1653.2 L238.7,1654.7 L238.8,1656.1 L238.9,1657.5 L239.0,1658.8 L239.1,1660.1 L239.2,1661.4 L239.3,1662.6 L239.4,1663.8 L239.5,1664.9 L239.6,1666.0 L239.7,1667.1 L239.8,1668.2 L240.0,1669.2 L240.1,1670.2 L240.2,1671.1 L240.3,1672.0 L240.4,1672.9 L240.5,1673.7 L240.6,1674.5 L240.8,1675.3 L240.9,1676.0 L241.0,1676.7 L241.1,1677.4 L241.2,1678.0 L241.4,1678.6 L241.5,1679.2 L241.6,1679.7 L241.8,1680.2 L241.9,1680.6 L242.0,1681.1 L242.1,1681.4 L242.3,1681.8 L242.4,1682.1 L242.6,1682.4 L242.7,1682.7 L242.8,1682.9 L243.0,1683.1 L243.1,1683.2 L243.3,1683.3 L243.4,1683.4 L243.6,1683.5 L243.7,1683.5 L243.9,1683.5 L244.0,1683.4 L244.2,1683.3 L244.3,1683.2 L244.5,1683.0 L244.6,1682.9 L244.8,1682.6 L244.9,1682.4 L245.1,1682.1 L245.3,1681.8 L245.4,1681.4 L245.6,1681.0 L245.8,1680.6 L245.9,1680.1 L246.1,1679.6 L246.3,1679.1 L246.5,1678.5 L246.6,1677.9 L246.8,1677.3 L247.0,1676.6 L247.2,1675.9 L247.4,1675.2 L247.6,1674.4 L247.8,1673.6 L247.9,1672.7 L248.1,1671.9 L248.3,1670.9 L248.5,1670.0 L248.7,1669.0 L248.9,1668.0 L249.1,1666.9 L249.3,1665.8 L249.5,1664.7 L249.8,1663.5 L250.0,1662.3 L250.2,1661.1 L250.4,1659.8 L250.6,1658.5 L250.8,1657.1 L251.1,1655.7 L251.3,1654.3 L251.5,1652.9 L251.7,1651.4 L252.0,1649.8 L252.2,1648.2 L252.4,1646.6 L252.7,1645.0 L252.9,1643.3 L253.2,1641.5 L253.4,1639.8 L253.7,1638.0 L253.9,1636.1 L254.2,1634.2 L254.4,1632.3 L254.7,1630.3 L254.9,1628.3 L255.2,1626.3 L255.5,1624.2 L255.7,1622.1 L256.0,1619.9 L256.3,1617.7 L256.6,1615.4 L256.8,1613.1 L257.1,1610.8 L257.4,1608.4 L257.7,1606.0 L258.0,1603.5 L258.3,1601.0 L258.6,1598.5 L258.9,1595.9 L259.2,1593.2 L259.5,1590.6 L259.8,1587.8 L260.1,1585.1 L260.5,1582.2 L260.8,1579.4 L261.1,1576.5 L261.4,1573.5 L261.8,1570.5 L262.1,1567.4 L262.4,1564.3 L262.8,1561.2 L263.1,1558.0 L263.5,1554.8 L263.8,1551.5 L264.2,1548.1 L264.5,1544.7 L264.9,1541.3 L265.3,1537.8 L265.6,1534.3 L266.0,1530.7 L266.4,1527.0 L266.8,1523.4 L267.1,1519.6 L267.5,1515.8 L267.9,1512.0 L268.3,1508.0 L268.7,1504.1 L269.1,1500.1 L269.5,1496.0 L269.9,1491.9 L270.4,1487.7 L270.8,1483.5 L271.2,1479.2 L271.6,1474.8 L272.1,1470.4 L272.5,1465.9 L273.0,1461.4 L273.4,1456.8 L273.9,1452.2 L274.3,1447.5 L274.8,1442.7 L275.2,1437.9 L275.7,1433.0 L276.2,1428.0 L276.7,1423.0 L277.2,1418.0 L277.7,1412.8 L278.1,1407.6 L278.6,1402.3 L279.2,1397.0 L279.7,1391.6 L280.2,1386.1 L280.7,1380.6 L281.2,1375.0 L281.8,1369.3 L282.3,1363.5 L282.8,1357.7 L283.4,1351.8 L283.9,1345.9 L284.5,1339.8 L285.1,1333.7 L285.6,1327.6 L286.2,1321.3 L286.8,1315.0 L287.4,1308.6 L288.0,1302.1 L288.6,1295.5 L289.2,1288.9 L289.8,1282.2 L290.4,1275.4 L291.1,1268.5 L291.7,1261.6 L292.3,1254.5 L293.0,1247.4 L293.6,1240.2 L294.3,1232.9 L295.0,1225.6 L295.6,1218.1 L296.3,1210.6 L297.0,1202.9 L297.7,1195.2 L298.4,1187.4 L299.1,1179.5 L299.8,1171.5 L300.5,1163.4 L301.3,1155.3 L302.0,1147.0 L302.7,1138.6 L303.5,1130.2 L304.2,1121.6 L305.0,1113.0 L305.8,1104.2 L306.6,1095.4 L307.4,1086.5 L308.2,1077.4 L309.0,1068.3 L309.8,1059.0 L310.6,1049.7 L311.4,1040.2 L312.3,1030.6 L313.1,1021.0 L314.0,1011.2 L314.9,1001.3 L315.7,991.3 L316.6,981.2 L317.5,971.0 L318.4,960.6 L319.3,950.2 L320.2,939.6 L321.2,928.9 L322.1,918.1 L323.1,907.2 L324.0,896.2 L325.0,884.7 L326.0,873.2 L327.0,861.7 L328.0,850.3 L329.0,838.8 L330.0,827.2 L331.0,815.7 L332.0,804.2 L333.0,792.7 L334.0,781.2 L335.0,769.6 L336.0,758.1 L337.0,746.5 L338.0,735.0 L338.9,723.4 L339.9,711.8 L340.9,700.2 L341.9,688.7 L342.9,677.1 L343.9,665.5 L344.9,653.9 L345.9,642.3 L346.9,630.7 L347.9,619.1 L348.9,607.5 L349.9,595.9 L350.9,584.3 L351.9,572.6 L352.9,561.0 L353.9,549.4 L354.9,537.8 L355.9,526.1 L356.9,514.5 L357.9,502.9 L358.9,491.2 L359.8,479.6 L360.8,468.0 L361.8,456.3 L362.8,444.7 L363.8,433.0 L364.8,421.4 L365.8,409.7 L366.8,398.1 L367.8,386.5 L368.8,374.8 L369.8,363.2 L370.8,351.5 L371.8,339.9 L372.8,328.2 L373.8,316.6 L374.8,304.9 L375.8,293.3 L376.8,281.6 L377.8,270.0 L378.8,258.4 L379.8,246.7 L380.7,235.1 L381.7,223.4 L382.7,211.8 L383.7,200.2 L384.7,188.5 L385.7,176.9 L386.7,165.3 L387.7,153.6 L388.7,142.0 L389.7,130.4 L390.7,118.8 L391.7,107.2 L392.7,95.5 L393.7,83.9 L394.7,72.3 L395.7,60.7" stroke="#00b0cc" stroke-width="8.6"/>
<path clip-path="url(#cp)" d="M228.5,1621.1 H1827.8" stroke="#04050d" stroke-width="8.2"/>
<path clip-path="url(#cp)" d="M280.5,181.8 V1800.0" stroke="#04050d"/>
<path clip-path="url(#cp)" d="M231.3,62.6 L231.3,81.6 L231.4,100.4 L231.4,119.0 L231.5,137.4 L231.5,155.7 L231.6,173.7 L231.6,191.6 L231.7,209.3 L231.7,226.8 L231.8,244.1 L231.8,261.2 L231.9,278.2 L231.9,295.0 L232.0,311.6 L232.0,328.0 L232.1,344.3 L232.1,360.4 L232.2,376.3 L232.2,392.1 L232.3,407.7 L232.4,423.2 L232.4,438.4 L232.5,453.6 L232.5,468.5 L232.6,483.4 L232.6,498.0 L232.7,512.5 L232.8,526.9 L232.8,541.1 L232.9,555.2 L233.0,569.1 L233.0,582.8 L233.1,596.5 L233.1,610.0 L233.2,623.3 L233.3,636.5 L233.3,649.6 L233.4,662.5 L233.5,675.3 L233.5,687.9 L233.6,700.5 L233.7,712.9 L233.7,725.1 L233.8,737.3 L233.9,749.3 L234.0,761.1 L234.0,772.9 L234.1,784.5 L234.2,796.0 L234.3,807.4 L234.3,818.7 L234.4,829.8 L234.5,840.8 L234.6,851.8 L234.6,862.5 L234.7,873.2 L234.8,883.8 L234.9,894.2 L235.0,904.6 L235.1,914.8 L235.1,924.9 L235.2,934.9 L235.3,944.8 L235.4,954.6 L235.5,964.3 L235.6,973.9 L235.7,983.4 L235.8,992.8 L235.8,1002.1 L235.9,1011.2 L236.0,1020.3 L236.1,1029.3 L236.2,1038.2 L236.3,1047.0 L236.4,1055.7 L236.5,1064.3 L236.6,1072.8 L236.7,1081.2 L236.8,1089.5 L236.9,1097.7 L237.0,1105.8 L237.1,1113.9 L237.2,1121.8 L237.3,1129.7 L237.4,1137.5 L237.5,1145.2 L237.7,1152.8 L237.8,1160.3 L237.9,1167.7 L238.0,1175.1 L238.1,1182.4 L238.2,1189.5 L238.3,1196.6 L238.4,1203.7 L238.6,1210.6 L238.7,1217.5 L238.8,1224.3 L238.9,1231.0 L239.1,1237.6 L239.2,1244.2 L239.3,1250.7 L239.4,1257.1 L239.6,1263.4 L239.7,1269.7 L239.8,1275.8 L240.0,1282.0 L240.1,1288.0 L240.2,1294.0 L240.4,1299.9 L240.5,1305.7 L240.6,1311.5 L240.8,1317.1 L240.9,1322.8 L241.1,1328.3 L241.2,1333.8 L241.4,1339.2 L241.5,1344.6 L241.7,1349.9 L241.8,1355.1 L242.0,1360.3 L242.1,1365.4 L242.3,1370.4 L242.4,1375.4 L242.6,1380.3 L242.7,1385.1 L242.9,1389.9 L243.1,1394.6 L243.2,1399.3 L243.4,1403.9 L243.6,1408.5 L243.7,1412.9 L243.9,1417.4 L244.1,1421.7 L244.3,1426.1 L244.5,1430.3 L244.6,1434.5 L244.8,1438.7 L245.0,1442.7 L245.2,1446.8 L245.4,1450.8 L245.6,1454.7 L245.7,1458.6 L245.9,1462.4 L246.1,1466.1 L246.3,1469.8 L246.5,1473.5 L246.7,1477.1 L246.9,1480.7 L247.1,1484.2 L247.4,1487.6 L247.6,1491.0 L247.8,1494.4 L248.0,1497.7 L248.2,1500.9 L248.4,1504.1 L248.6,1507.3 L248.9,1510.4 L249.1,1513.4 L249.3,1516.4 L249.5,1519.4 L249.8,1522.3 L250.0,1525.2 L250.2,1528.0 L250.5,1530.8 L250.7,1533.5 L251.0,1536.2 L251.2,1538.8 L251.5,1541.4 L251.7,1543.9 L252.0,1546.4 L252.2,1548.9 L252.5,1551.3 L252.7,1553.7 L253.0,1556.0 L253.3,1558.2 L253.5,1560.5 L253.8,1562.7 L254.1,1564.8 L254.4,1566.9 L254.7,1569.0 L254.9,1571.0 L255.2,1573.0 L255.5,1574.9 L255.8,1576.8 L256.1,1578.7 L256.4,1580.5 L256.7,1582.3 L257.0,1584.0 L257.3,1585.7 L257.6,1587.3 L257.9,1588.9 L258.3,1590.5 L258.6,1592.0 L258.9,1593.5 L259.2,1594.9 L259.6,1596.4 L259.9,1597.7 L260.2,1599.1 L260.6,1600.3 L260.9,1601.6 L261.3,1602.8 L261.6,1604.0 L262.0,1605.1 L262.3,1606.2 L262.7,1607.3 L263.1,1608.3 L263.4,1609.3 L263.8,1610.2 L264.2,1611.1 L264.6,1612.0 L264.9,1612.8 L265.3,1613.6 L265.7,1614.3 L266.1,1615.0 L266.5,1615.7 L266.9,1616.3 L267.3,1616.9 L267.8,1617.5 L268.2,1618.0 L268.6,1618.5 L269.0,1619.0 L269.4,1619.4 L269.9,1619.8 L270.3,1620.1 L270.8,1620.4 L271.2,1620.7 L271.7,1620.9 L272.1,1621.1 L272.6,1621.2 L273.1,1621.3 L273.5,1621.4 L274.0,1621.5 L274.5,1621.5 L275.0,1621.4 L275.5,1621.4 L276.0,1621.3 L276.5,1621.1 L277.0,1620.9 L277.5,1620.7 L278.0,1620.5 L278.5,1620.2 L279.0,1619.8 L279.6,1619.5 L280.1,1619.1 L280.7,1618.6 L281.2,1618.1 L281.8,1617.6 L282.3,1617.1 L282.9,1616.5 L283.5,1615.8 L284.0,1615.2 L284.6,1614.5 L285.2,1613.7 L285.8,1613.0 L286.4,1612.1 L287.0,1611.3 L287.6,1610.4 L288.2,1609.4 L288.9,1608.5 L289.5,1607.5 L290.1,1606.4 L290.8,1605.3 L291.4,1604.2 L292.1,1603.0 L292.8,1601.8 L293.4,1600.6 L294.1,1599.3 L294.8,1598.0 L295.5,1596.6 L296.2,1595.2 L296.9,1593.7 L297.6,1592.3 L298.3,1590.7 L299.1,1589.2 L299.8,1587.6 L300.5,1585.9 L301.3,1584.2 L302.1,1582.5 L302.8,1580.7 L303.6,1578.9 L304.4,1577.1 L305.2,1575.2 L306.0,1573.2 L306.8,1571.2 L307.6,1569.2 L308.4,1567.2 L309.2,1565.0 L310.1,1562.9 L310.9,1560.7 L311.8,1558.5 L312.7,1556.2 L313.5,1553.8 L314.4,1551.5 L315.3,1549.1 L316.2,1546.6 L317.1,1544.1 L318.0,1541.5 L319.0,1538.9 L319.9,1536.3 L320.9,1533.6 L321.8,1530.9 L322.8,1528.0 L323.8,1525.1 L324.8,1522.2 L325.8,1519.2 L326.8,1516.3 L327.8,1513.3 L328.8,1510.3 L329.8,1507.3 L330.8,1504.3 L331.8,1501.3 L332.8,1498.2 L333.8,1495.2 L334.8,1492.1 L335.8,1489.0 L336.8,1485.9 L337.8,1482.8 L338.8,1479.6 L339.8,1476.5 L340.8,1473.3 L341.8,1470.2 L342.8,1467.0 L343.8,1463.8 L344.8,1460.6 L345.8,1457.4 L346.8,1454.2 L347.8,1450.9 L348.8,1447.7 L349.8,1444.4 L350.8,1441.2 L351.8,1437.9 L352.8,1434.6 L353.8,1431.3 L354.8,1428.0 L355.8,1424.7 L356.8,1421.4 L357.8,1418.1 L358.8,1414.7 L359.8,1411.4 L360.8,1408.0 L361.8,1404.7 L362.8,1401.3 L363.8,1397.9 L364.8,1394.6 L365.8,1391.2 L366.8,1387.8 L367.8,1384.4 L368.8,1381.0 L369.8,1377.6 L370.8,1374.1 L371.8,1370.7 L372.8,1367.3 L373.8,1363.9 L374.8,1360.4 L375.8,1357.0 L376.8,1353.5 L377.8,1350.1 L378.8,1346.6 L379.8,1343.1 L380.8,1339.6 L381.8,1336.2 L382.8,1332.7 L383.8,1329.2 L384.8,1325.7 L385.8,1322.2 L386.8,1318.7 L387.8,1315.2 L388.8,1311.7 L389.8,1308.2 L390.8,1304.6 L391.8,1301.1 L392.8,1297.6 L393.8,1294.1 L394.8,1290.5 L395.8,1287.0 L396.8,1283.4 L397.8,1279.9 L398.8,1276.3 L399.8,1272.8 L400.8,1269.2 L401.8,1265.6 L402.8,1262.1 L403.8,1258.5 L404.8,1254.9 L405.8,1251.4 L406.8,1247.8 L407.8,1244.2 L408.8,1240.6 L409.8,1237.0 L410.8,1233.4 L411.8,1229.8 L412.8,1226.2 L413.8,1222.6 L414.8,1219.0 L415.8,1215.4 L416.8,1211.8 L417.8,1208.2 L418.8,1204.6 L419.8,1201.0 L420.8,1197.3 L421.8,1193.7 L422.8,1190.1 L423.8,1186.5 L424.8,1182.8 L425.8,1179.2 L426.8,1175.5 L427.8,1171.9 L428.8,1168.3 L429.8,1164.6 L430.8,1161.0 L431.8,1157.3 L432.8,1153.7 L433.8,1150.0 L434.8,1146.4 L435.8,1142.7 L436.8,1139.1 L437.8,1135.4 L438.8,1131.7 L439.8,1128.1 L440.8,1124.4 L441.8,1120.7 L442.8,1117.1 L443.8,1113.4 L444.8,1109.7 L445.8,1106.0 L446.8,1102.4 L447.8,1098.7 L448.8,1095.0 L449.8,1091.3 L450.8,1087.6 L451.8,1083.9 L452.8,1080.2 L453.8,1076.6 L454.8,1072.9 L455.8,1069.2 L456.8,1065.5 L457.8,1061.8 L458.8,1058.1 L459.8,1054.4 L460.8,1050.7 L461.8,1047.0 L462.8,1043.3 L463.8,1039.6 L464.8,1035.8 L465.8,1032.1 L466.8,1028.4 L467.8,1024.7 L468.8,1021.0 L469.8,1017.3 L470.8,1013.6 L471.8,1009.9 L472.8,1006.1 L473.8,1002.4 L474.8,998.7 L475.8,995.0 L476.8,991.2 L477.8,987.5 L478.8,983.8 L479.8,980.1 L480.8,976.3 L481.8,972.6 L482.8,968.9 L483.8,965.1 L484.8,961.4 L485.8,957.7 L486.8,953.9 L487.8,950.2 L488.8,946.5 L489.8,942.7 L490.8,939.0 L491.8,935.2 L492.8,931.5 L493.8,927.8 L494.8,924.0 L495.8,920.3 L496.8,916.5 L497.8,912.8 L498.8,909.0 L499.8,905.3 L500.8,901.5 L501.8,897.8 L502.8,894.0 L503.8,890.3 L504.8,886.5 L505.8,882.8 L506.8,879.0 L507.8,875.3 L508.8,871.5 L509.8,867.8 L510.8,864.0 L511.8,860.2 L512.8,856.5 L513.8,852.7 L514.8,849.0 L515.8,845.2 L516.8,841.4 L517.8,837.7 L518.8,833.9 L519.8,830.1 L520.8,826.4 L521.8,822.6 L522.8,818.9 L523.8,815.1 L524.8,811.3 L525.8,807.5 L526.8,803.8 L527.8,800.0 L528.8,796.2 L529.8,792.5 L530.8,788.7 L531.8,784.9 L532.8,781.2 L533.8,777.4 L534.8,773.6 L535.8,769.8 L536.7,766.1 L537.7,762.3 L538.7,758.5 L539.7,754.7 L540.7,751.0 L541.7,747.2 L542.7,743.4 L543.7,739.6 L544.7,735.8 L545.7,732.1 L546.7,728.3 L547.7,724.5 L548.7,720.7 L549.7,716.9 L550.7,713.2 L551.7,709.4 L552.7,705.6 L553.7,701.8 L554.7,698.0 L555.7,694.2 L556.7,690.5 L557.7,686.7 L558.7,682.9 L559.7,679.1 L560.7,675.3 L561.7,671.5 L562.7,667.8 L563.7,664.0 L564.7,660.2 L565.7,656.4 L566.7,652.6 L567.7,648.8 L568.7,645.0 L569.7,641.2 L570.7,637.4 L571.7,633.7 L572.7,629.9 L573.7,626.1 L574.7,622.3 L575.7,618.5 L576.7,614.7 L577.7,610.9 L578.7,607.1 L579.7,603.3 L580.7,599.5 L581.7,595.8 L582.7,592.0 L583.7,588.2 L584.7,584.4 L585.7,580.6 L586.7,576.8 L587.7,573.0 L588.7,569.2 L589.7,565.4 L590.7,561.6 L591.7,557.8 L592.7,554.0 L593.7,550.2 L594.7,546.4 L595.7,542.7 L596.7,538.9 L597.7,535.1 L598.7,531.3 L599.7,527.5 L600.7,523.7 L601.7,519.9 L602.7,516.1 L603.7,512.3 L604.7,508.5 L605.7,504.7 L606.7,500.9 L607.7,497.1 L608.7,493.3 L609.7,489.5 L610.7,485.7 L611.7,481.9 L612.7,478.1 L613.7,474.3 L614.7,470.5 L615.7,466.7 L616.7,462.9 L617.7,459.1 L618.7,455.4 L619.7,451.6 L620.7,447.8 L621.7,444.0 L622.7,440.2 L623.7,436.4 L624.7,432.6 L625.7,428.8 L626.7,425.0 L627.7,421.2 L628.7,417.4 L629.7,413.6 L630.7,409.8 L631.7,406.0 L632.7,402.2 L633.7,398.4 L634.7,394.6 L635.7,390.8 L636.7,387.0 L637.7,383.2 L638.7,379.4 L639.7,375.6 L640.7,371.8 L641.7,368.0 L642.7,364.2 L643.7,360.4 L644.7,356.7 L645.7,352.9 L646.7,349.1 L647.7,345.3 L648.7,341.5 L649.7,337.7 L650.7,333.9 L651.7,330.1 L652.7,326.3 L653.7,322.5 L654.7,318.7 L655.7,314.9 L656.7,311.1 L657.7,307.3 L658.7,303.5 L659.7,299.7 L660.7,295.9 L661.7,292.1 L662.7,288.4 L663.7,284.6 L664.7,280.8 L665.7,277.0 L666.7,273.2 L667.7,269.4 L668.7,265.6 L669.7,261.8 L670.7,258.0 L671.7,254.2 L672.7,250.4 L673.7,246.6 L674.7,242.8 L675.7,239.1 L676.7,235.3 L677.7,231.5 L678.7,227.7 L679.7,223.9 L680.7,220.1 L681.7,216.3 L682.7,212.5 L683.7,208.7 L684.7,205.0 L685.7,201.2 L686.7,197.4 L687.7,193.6 L688.7,189.8 L689.7,186.0 L690.7,182.2 L691.7,178.4 L692.7,174.7 L693.7,170.9 L694.7,167.1 L695.7,163.3 L696.7,159.5 L697.7,155.7 L698.7,151.9 L699.7,148.2 L700.7,144.4 L701.7,140.6 L702.7,136.8 L703.7,133.0 L704.7,129.2 L705.7,125.5 L706.7,121.7 L707.7,117.9 L708.7,114.1 L709.7,110.3 L710.7,106.6 L711.7,102.8 L712.7,99.0 L713.7,95.2 L714.7,91.4 L715.7,87.7 L716.7,83.9 L717.7,80.1 L718.7,76.3 L719.7,72.5 L720.7,68.8 L721.7,65.0 L722.7,61.2" stroke="#04050d" stroke-width="8.6"/>
<path clip-path="url(#cp2)" d="M228.5,1320.1 H1827.8" stroke="#00a84f" stroke-width="9.0"/>
<path clip-path="url(#cp2)" d="M338.7,181.8 V1800.0" stroke="#00a84f"/>
<path clip-path="url(#cp)" d="M345.0,181.8 V1800" stroke="#8fd28e" stroke-width="1.9"/>
<path clip-path="url(#cp)" d="M228.5,1514.8 H1827.8" stroke="#f3ea12" stroke-width="9.0"/>
<path clip-path="url(#cp)" d="M339.9,181.8 V1800.0" stroke="#f3ea12"/>
<path clip-path="url(#cp)" d="M239.5,69.9 L239.7,94.0 L239.8,117.8 L240.0,141.4 L240.2,164.7 L240.3,187.7 L240.5,210.5 L240.7,233.0 L240.8,255.3 L241.0,277.3 L241.2,299.1 L241.4,320.6 L241.5,341.9 L241.7,363.0 L241.9,383.8 L242.1,404.3 L242.3,424.7 L242.4,444.8 L242.6,464.6 L242.8,484.3 L243.0,503.7 L243.2,522.9 L243.4,541.8 L243.6,560.6 L243.8,579.1 L244.0,597.4 L244.2,615.5 L244.4,633.3 L244.6,651.0 L244.8,668.4 L245.0,685.7 L245.2,702.7 L245.5,719.5 L245.7,736.1 L245.9,752.6 L246.1,768.8 L246.3,784.8 L246.6,800.6 L246.8,816.3 L247.0,831.7 L247.3,847.0 L247.5,862.0 L247.7,876.9 L248.0,891.6 L248.2,906.1 L248.5,920.4 L248.7,934.5 L249.0,948.5 L249.2,962.3 L249.5,975.8 L249.7,989.3 L250.0,1002.5 L250.3,1015.6 L250.5,1028.5 L250.8,1041.2 L251.1,1053.8 L251.4,1066.2 L251.6,1078.4 L251.9,1090.4 L252.2,1102.3 L252.5,1114.0 L252.8,1125.6 L253.1,1137.0 L253.4,1148.3 L253.7,1159.4 L254.0,1170.3 L254.3,1181.1 L254.6,1191.7 L254.9,1202.2 L255.2,1212.5 L255.5,1222.6 L255.8,1232.6 L256.2,1242.5 L256.5,1252.2 L256.8,1261.8 L257.2,1271.2 L257.5,1280.5 L257.8,1289.6 L258.2,1298.6 L258.5,1307.5 L258.9,1316.2 L259.2,1324.7 L259.6,1333.2 L260.0,1341.4 L260.3,1349.6 L260.7,1357.6 L261.1,1365.5 L261.4,1373.2 L261.8,1380.8 L262.2,1388.3 L262.6,1395.7 L263.0,1402.9 L263.4,1409.9 L263.8,1416.9 L264.2,1423.7 L264.6,1430.4 L265.0,1437.0 L265.4,1443.4 L265.8,1449.7 L266.3,1455.9 L266.7,1462.0 L267.1,1467.9 L267.6,1473.7 L268.0,1479.4 L268.5,1485.0 L268.9,1490.4 L269.4,1495.7 L269.8,1500.9 L270.3,1506.0 L270.8,1511.0 L271.3,1515.8 L271.7,1520.6 L272.2,1525.2 L272.7,1529.7 L273.2,1534.1 L273.7,1538.3 L274.2,1542.5 L274.7,1546.5 L275.2,1550.4 L275.8,1554.2 L276.3,1557.9 L276.8,1561.5 L277.4,1564.9 L277.9,1568.3 L278.5,1571.5 L279.0,1574.7 L279.6,1577.7 L280.1,1580.6 L280.7,1583.4 L281.3,1586.1 L281.9,1588.7 L282.5,1591.1 L283.1,1593.5 L283.7,1595.8 L284.3,1597.9 L284.9,1600.0 L285.5,1601.9 L286.1,1603.7 L286.8,1605.4 L287.4,1607.1 L288.0,1608.6 L288.7,1610.0 L289.4,1611.3 L290.0,1612.5 L290.7,1613.6 L291.4,1614.5 L292.1,1615.4 L292.7,1616.2 L293.4,1616.9 L294.2,1617.4 L294.9,1617.9 L295.6,1618.3 L296.3,1618.5 L297.1,1618.7 L297.8,1618.7 L298.6,1618.7 L299.3,1618.5 L300.1,1618.3 L300.9,1617.9 L301.6,1617.5 L302.4,1616.9 L303.2,1616.2 L304.0,1615.5 L304.8,1614.6 L305.7,1613.7 L306.5,1612.6 L307.3,1611.4 L308.2,1610.1 L309.1,1608.8 L309.9,1607.3 L310.8,1605.7 L311.7,1604.0 L312.6,1602.3 L313.5,1600.4 L314.4,1598.4 L315.3,1596.3 L316.2,1594.1 L317.2,1591.9 L318.1,1589.5 L319.1,1587.0 L320.1,1584.3 L321.1,1581.5 L322.1,1578.7 L323.1,1575.8 L324.1,1572.8 L325.1,1569.7 L326.1,1566.6 L327.1,1563.4 L328.1,1560.2 L329.1,1556.8 L330.1,1553.5 L331.1,1550.0 L332.1,1546.6 L333.2,1543.0 L334.2,1539.4 L335.2,1535.8 L336.2,1532.1 L337.2,1528.3 L338.2,1524.6 L339.2,1520.7 L340.2,1516.8 L341.2,1512.9 L342.2,1509.0 L343.2,1505.0 L344.2,1500.9 L345.2,1496.9 L346.2,1492.7 L347.2,1488.6 L348.2,1484.4 L349.2,1480.2 L350.2,1476.0 L351.2,1471.7 L352.3,1467.4 L353.3,1463.0 L354.3,1458.7 L355.3,1454.3 L356.3,1449.8 L357.3,1445.4 L358.3,1440.9 L359.3,1436.4 L360.3,1431.9 L361.3,1427.3 L362.3,1422.7 L363.3,1418.1 L364.3,1413.5 L365.3,1408.9 L366.3,1404.2 L367.3,1399.5 L368.3,1394.8 L369.3,1390.1 L370.3,1385.3 L371.4,1380.5 L372.4,1375.8 L373.4,1371.0 L374.4,1366.1 L375.4,1361.3 L376.4,1356.4 L377.4,1351.6 L378.4,1346.7 L379.4,1341.8 L380.4,1336.8 L381.4,1331.9 L382.4,1327.0 L383.4,1322.0 L384.4,1317.0 L385.4,1312.0 L386.4,1307.0 L387.4,1302.0 L388.4,1297.0 L389.4,1291.9 L390.4,1286.9 L391.5,1281.8 L392.5,1276.7 L393.5,1271.6 L394.5,1266.5 L395.5,1261.4 L396.5,1256.3 L397.5,1251.1 L398.5,1246.0 L399.5,1240.8 L400.5,1235.7 L401.5,1230.5 L402.5,1225.3 L403.5,1220.1 L404.5,1214.9 L405.5,1209.7 L406.5,1204.4 L407.5,1199.2 L408.5,1194.0 L409.5,1188.7 L410.6,1183.4 L411.6,1178.2 L412.6,1172.9 L413.6,1167.6 L414.6,1162.3 L415.6,1157.0 L416.6,1151.7 L417.6,1146.4 L418.6,1141.0 L419.6,1135.7 L420.6,1130.4 L421.6,1125.0 L422.6,1119.7 L423.6,1114.3 L424.6,1108.9 L425.6,1103.5 L426.6,1098.2 L427.6,1092.8 L428.6,1087.4 L429.6,1082.0 L430.7,1076.6 L431.7,1071.1 L432.7,1065.7 L433.7,1060.3 L434.7,1054.9 L435.7,1049.4 L436.7,1044.0 L437.7,1038.5 L438.7,1033.0 L439.7,1027.6 L440.7,1022.1 L441.7,1016.6 L442.7,1011.1 L443.7,1005.7 L444.7,1000.2 L445.7,994.7 L446.7,989.1 L447.7,983.6 L448.7,978.1 L449.8,972.6 L450.8,967.1 L451.8,961.5 L452.8,956.0 L453.8,950.4 L454.8,944.9 L455.8,939.3 L456.8,933.8 L457.8,928.2 L458.8,922.6 L459.8,917.0 L460.8,911.5 L461.8,905.9 L462.8,900.3 L463.8,894.7 L464.8,889.1 L465.8,883.5 L466.8,877.8 L467.8,872.2 L468.8,866.6 L469.9,861.0 L470.9,855.3 L471.9,849.7 L472.9,844.0 L473.9,838.4 L474.9,832.7 L475.9,827.1 L476.9,821.4 L477.9,815.7 L478.9,810.0 L479.9,804.4 L480.9,798.7 L481.9,793.0 L482.9,787.3 L483.9,781.6 L484.9,775.9 L485.9,770.2 L486.9,764.4 L487.9,758.7 L489.0,753.0 L490.0,747.2 L491.0,741.5 L492.0,735.8 L493.0,730.0 L494.0,724.2 L495.0,718.5 L496.0,712.7 L497.0,706.9 L498.0,701.2 L499.0,695.4 L500.0,689.6 L501.0,683.8 L502.0,678.0 L503.0,672.2 L504.0,666.4 L505.0,660.6 L506.0,654.7 L507.0,648.9 L508.0,643.1 L509.1,637.2 L510.1,631.4 L511.1,625.5 L512.1,619.7 L513.1,613.8 L514.1,607.9 L515.1,602.1 L516.1,596.2 L517.1,590.3 L518.1,584.4 L519.1,578.5 L520.1,572.6 L521.1,566.7 L522.1,560.8 L523.1,554.9 L524.1,548.9 L525.1,543.0 L526.1,537.1 L527.1,531.1 L528.2,525.2 L529.2,519.2 L530.2,513.2 L531.2,507.3 L532.2,501.3 L533.2,495.3 L534.2,489.3 L535.2,483.3 L536.2,477.3 L537.2,471.3 L538.2,465.3 L539.2,459.3 L540.2,453.3 L541.2,447.2 L542.2,441.2 L543.2,435.1 L544.2,429.1 L545.2,423.0 L546.2,416.9 L547.3,410.9 L548.3,404.8 L549.3,398.7 L550.3,392.6 L551.3,386.5 L552.3,380.4 L553.3,374.3 L554.3,368.1 L555.3,362.0 L556.3,355.9 L557.3,349.7 L558.3,343.6 L559.3,337.4 L560.3,331.2 L561.3,325.1 L562.3,318.9 L563.3,312.7 L564.3,306.5 L565.3,300.3 L566.3,294.1 L567.4,287.8 L568.4,281.6 L569.4,275.4 L570.4,269.1 L571.4,262.9 L572.4,256.6 L573.4,250.3 L574.4,244.1 L575.4,237.8 L576.4,231.5 L577.4,225.2 L578.4,218.9 L579.4,212.6 L580.4,206.2 L581.4,199.9 L582.4,193.6 L583.4,187.2 L584.4,180.9 L585.4,174.5 L586.5,168.1 L587.5,161.7 L588.5,155.3 L589.5,148.9 L590.5,142.5 L591.5,136.1 L592.5,129.7 L593.5,123.2 L594.5,116.8 L595.5,110.3 L596.5,103.9 L597.5,97.4 L598.5,90.9 L599.5,84.4 L600.5,77.9 L601.5,71.4 L602.5,64.9" stroke="#f3ea12" stroke-width="8.6"/>
<path clip-path="url(#cp)" d="M299.1,181.8 V1800.0" stroke="#cc569f"/>
<circle clip-path="url(#cp)" cx="1018.6" cy="990.2" r="177.5" stroke="#ed1c24" stroke-width="8.6"/>
<circle clip-path="url(#cp)" cx="1018.6" cy="990.2" r="330.6" stroke="#00a84f" stroke-width="8.6"/>
<circle clip-path="url(#cp)" cx="1018.6" cy="990.2" r="516.8" stroke="#4859a7" stroke-width="8.6"/>
<circle clip-path="url(#cp)" cx="1018.6" cy="990.2" r="523.4" stroke="#04050d" stroke-width="8.6"/>
<circle clip-path="url(#cp)" cx="1018.6" cy="990.2" r="525.4" stroke="#f3ea12" stroke-width="8.6"/>
<circle clip-path="url(#cp)" cx="1018.6" cy="990.2" r="542.4" stroke="#cc569f" stroke-width="8.6"/>
<circle clip-path="url(#cp)" cx="1018.6" cy="990.2" r="572.3" stroke="#f6871f" stroke-width="8.6"/>
<circle clip-path="url(#cp)" cx="1018.6" cy="990.2" r="660.8" stroke="#00b0cc" stroke-width="8.6"/>
</g>
<circle cx="1017.1" cy="989.2" r="10.0" fill="#5b1a57"/>
<g stroke="#0a0a12" stroke-width="3.2" fill="none" stroke-linecap="butt">
<path d="M226.9,197.2 V1803.0"/>
<path d="M205.8,1781.8 H1812.0"/>
<path d="M306.0,1781.8 V1792.3"/>
<path d="M215.9,1702.8 H226.9"/>
<path d="M385.2,1781.8 V1792.3"/>
<path d="M215.9,1623.6 H226.9"/>
<path d="M464.3,1781.8 V1792.3"/>
<path d="M215.9,1544.4 H226.9"/>
<path d="M543.5,1781.8 V1792.3"/>
<path d="M215.9,1465.2 H226.9"/>
<path d="M622.7,1781.8 V1802.8"/>
<path d="M205.9,1386.0 H226.9"/>
<path d="M701.9,1781.8 V1792.3"/>
<path d="M215.9,1306.8 H226.9"/>
<path d="M781.1,1781.8 V1792.3"/>
<path d="M215.9,1227.6 H226.9"/>
<path d="M860.2,1781.8 V1792.3"/>
<path d="M215.9,1148.4 H226.9"/>
<path d="M939.4,1781.8 V1792.3"/>
<path d="M215.9,1069.2 H226.9"/>
<path d="M1018.6,1781.8 V1802.8"/>
<path d="M205.9,990.0 H226.9"/>
<path d="M1097.8,1781.8 V1792.3"/>
<path d="M215.9,910.8 H226.9"/>
<path d="M1177.0,1781.8 V1792.3"/>
<path d="M215.9,831.6 H226.9"/>
<path d="M1256.1,1781.8 V1792.3"/>
<path d="M215.9,752.4 H226.9"/>
<path d="M1335.3,1781.8 V1792.3"/>
<path d="M215.9,673.2 H226.9"/>
<path d="M1414.5,1781.8 V1802.8"/>
<path d="M205.9,594.0 H226.9"/>
<path d="M1493.7,1781.8 V1792.3"/>
<path d="M215.9,514.8 H226.9"/>
<path d="M1572.9,1781.8 V1792.3"/>
<path d="M215.9,435.6 H226.9"/>
<path d="M1652.0,1781.8 V1792.3"/>
<path d="M215.9,356.4 H226.9"/>
<path d="M1731.2,1781.8 V1792.3"/>
<path d="M215.9,277.2 H226.9"/>
<path d="M1810.4,1781.8 V1802.8"/>
<path d="M205.9,198.0 H226.9"/>
</g>
<text transform="translate(226.8,1874.4) scale(0.955,1)" font-size="62.0" text-anchor="middle">0</text>
<text transform="translate(192.0,1808.5) scale(0.955,1)" font-size="62.0" text-anchor="end">0</text>
<text transform="translate(619.7,1874.4) scale(0.955,1)" font-size="62.0" text-anchor="middle">0.5</text>
<text transform="translate(192.0,1412.5) scale(0.955,1)" font-size="62.0" text-anchor="end">0.5</text>
<text transform="translate(1015.6,1874.4) scale(0.955,1)" font-size="62.0" text-anchor="middle">1</text>
<text transform="translate(192.0,1016.5) scale(0.955,1)" font-size="62.0" text-anchor="end">1</text>
<text transform="translate(1411.5,1874.4) scale(0.955,1)" font-size="62.0" text-anchor="middle">1<tspan dx="-3.8">.5</tspan></text>
<text transform="translate(192.0,620.5) scale(0.955,1)" font-size="62.0" text-anchor="end">1<tspan dx="-3.8">.5</tspan></text>
<text transform="translate(1808.4,1874.4) scale(0.955,1)" font-size="62.0" text-anchor="middle">2</text>
<text transform="translate(192.0,224.5) scale(0.955,1)" font-size="62.0" text-anchor="end">2</text>
<g stroke="#0a0a12" stroke-width="3.4" fill="none" stroke-linejoin="miter">
<path d="M1196.0,989.0 L1225.4,963.3 H1305.3"/>
<path d="M1348.8,989.0 L1378.4,963.3 H1457.0"/>
<path d="M1491.2,784.7 L1645.9,671.6 H1725.7"/>
<path d="M1447.5,687.4 L1596.2,577.5 H1675.7"/>
<path d="M1370.5,598.5 L1511.2,489.7 H1590.6"/>
<path d="M1292.5,521.5 L1422.6,417.9 H1502.4"/>
<path d="M1208.5,448.7 L1322.2,362.3 H1402.0"/>
<path d="M1165.8,344.4 L1203.9,320.3 H1283.0"/>
</g>
<text transform="translate(1263.6,949.3) scale(0.955,1)" font-size="62.0" text-anchor="middle">1</text>
<text transform="translate(1416.6,949.3) scale(0.955,1)" font-size="62.0" text-anchor="middle">2</text>
<text transform="translate(1685.1,656.2) scale(0.955,1)" font-size="62.0" text-anchor="middle">3</text>
<text transform="translate(1635.4,561.4) scale(0.955,1)" font-size="62.0" text-anchor="middle">4</text>
<text transform="translate(1550.4,472.5) scale(0.955,1)" font-size="62.0" text-anchor="middle">5</text>
<text transform="translate(1462.2,402.2) scale(0.955,1)" font-size="62.0" text-anchor="middle">6</text>
<text transform="translate(1360.7,346.5) scale(0.955,1)" font-size="62.0" text-anchor="middle">7</text>
<text transform="translate(1242.8,304.5) scale(0.955,1)" font-size="62.0" text-anchor="middle">8</text>
<text x="848" y="1944" font-size="71" letter-spacing="1.5">T<tspan font-size="42" dy="21" dx="-2" letter-spacing="0">p</tspan><tspan dy="-21" dx="2">/0.0208, s</tspan></text>
<text transform="translate(117.6,1281.6) rotate(-90)" font-size="71" letter-spacing="0.85">K<tspan font-size="42" dy="21" letter-spacing="0">p</tspan><tspan dy="-21">/(1.78·10</tspan><tspan font-size="42" dy="-24" letter-spacing="0">-5</tspan><tspan dy="24">), m/A</tspan></text>
</svg></body></html>
